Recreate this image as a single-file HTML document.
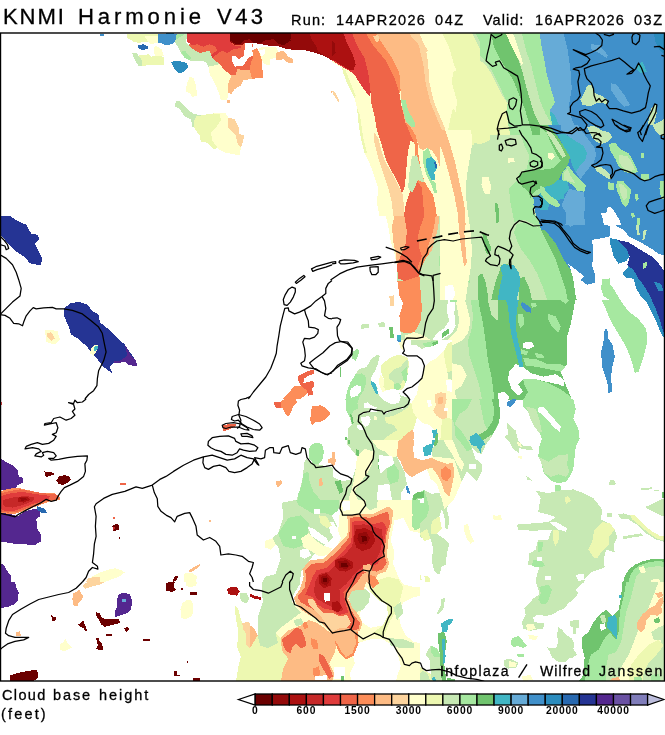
<!DOCTYPE html>
<html><head><meta charset="utf-8">
<style>
html,body{margin:0;padding:0;background:#fff;}
body{width:665px;height:735px;overflow:hidden;position:relative;font-family:"Liberation Sans",sans-serif;color:#000;}
svg{position:absolute;left:0;top:0;will-change:transform;}
.t{position:absolute;white-space:nowrap;line-height:1;will-change:transform;-webkit-text-stroke:0.3px #000;}
</style></head><body>
<svg width="665" height="735" viewBox="0 0 665 735">
<g id="map" shape-rendering="crispEdges">
<!--MAPFILL-->
<defs><clipPath id="k1"><rect x="440.0" y="130.0" width="170.0" height="170.0"/></clipPath>
<clipPath id="k2"><rect x="332.0" y="340.0" width="120.0" height="100.0"/></clipPath>
<clipPath id="k3"><rect x="250.0" y="500.0" width="170.0" height="182.0"/></clipPath>
<clipPath id="k4"><rect x="480.0" y="33.0" width="185.0" height="102.0"/></clipPath>
<clipPath id="k5"><rect x="540.0" y="125.0" width="125.0" height="100.0"/></clipPath>
</defs>
<polygon fill="#2b8cbe" points="166.0,33.0 173.5,33.0 176.0,39.2 172.2,44.2 166.0,44.2"/>
<polygon fill="#c7e9b4" points="169.7,34.2 187.2,34.2 186.0,43.0 191.0,48.0 199.7,53.0 209.7,50.5 213.4,58.0 219.7,64.2 215.9,66.7 208.4,66.7 205.9,61.7 196.0,60.5 189.7,60.5 184.7,58.0 181.0,53.0 177.2,45.5 173.5,40.5"/>
<polygon fill="#a6e8a0" points="169.7,34.2 184.7,34.2 178.5,38.0 174.7,40.5"/>
<polygon fill="#a6e8a0" points="181.0,51.7 184.7,50.5 191.0,58.0 189.7,60.5 184.7,58.0"/>
<polygon fill="#ef6548" points="197.2,44.2 245.9,43.0 253.4,44.2 253.4,56.7 250.9,63.0 249.6,70.4 238.4,70.4 235.9,74.9 231.4,75.4 224.7,70.4 219.7,64.2 212.2,58.0 210.9,54.2 209.7,50.5 199.7,53.0 191.0,48.0 188.5,44.2"/>
<polygon fill="#e03c3c" points="187.2,33.0 230.9,33.0 230.4,41.7 234.6,45.5 240.9,45.5 240.9,48.0 233.4,49.2 227.2,53.0 222.2,50.5 217.2,54.2 212.2,58.0 210.9,55.0 217.2,50.5 215.9,46.7 209.7,44.2 203.4,46.7 197.2,44.2 192.2,45.5 187.2,41.7"/>
<polygon fill="#ffffff" points="245.4,42.5 252.1,42.5 253.4,55.5 248.4,58.0 243.4,65.5 234.6,66.7 231.4,59.2 232.2,55.5 235.9,56.0 238.4,59.2 243.9,56.0 244.6,49.2"/>
<polygon fill="#fc8d59" points="252.1,50.5 257.1,48.0 259.6,53.0 262.1,60.5 262.9,77.9 252.1,78.7 249.6,70.4 250.9,63.0 253.4,56.7"/>
<polygon fill="#fdbb84" points="237.1,69.2 249.6,70.4 252.1,78.7 243.4,80.4 240.9,85.4 234.6,89.2 231.4,94.2 228.4,92.9 228.4,82.9 231.4,75.4 235.9,74.9"/>
<polygon fill="#ffffcc" points="208.4,66.7 219.7,64.2 224.7,70.4 231.4,75.4 228.4,82.9 228.4,92.9 227.2,99.9 220.9,99.9 218.4,91.7 214.7,82.9 209.7,74.2"/>
<polygon fill="#fdbb84" points="227.2,99.9 229.7,99.9 229.7,102.9 227.2,102.9"/>
<polygon fill="#ffffcc" points="258.4,48.0 265.8,46.7 275.8,46.7 278.3,51.7 275.8,58.0 269.6,59.2 269.6,65.5 264.6,64.2 262.1,60.5 259.6,53.0"/>
<polygon fill="#ffffff" points="258.9,50.5 264.6,49.2 264.6,54.2 262.1,56.7"/>
<polygon fill="#fdbb84" points="275.8,53.0 283.3,50.5 288.3,56.7 293.3,59.2 292.8,63.5 288.3,63.0 283.3,59.2 275.8,60.5"/>
<polygon fill="#940a0a" points="229.7,33.0 332.0,33.0 332.0,60.5 325.8,56.7 315.8,53.0 305.8,50.5 295.8,50.0 288.3,49.2 283.3,48.0 275.8,45.5 268.3,45.5 260.9,44.2 253.4,43.0 245.9,42.5 240.9,45.5 234.6,45.0 230.4,41.7"/>
<polygon fill="#ac1111" points="309.5,33.0 332.0,33.0 332.0,60.5 325.8,56.7 318.3,51.7 315.8,45.5 312.0,40.5"/>
<polygon fill="#6b0000" points="229.7,33.0 290.8,33.0 290.8,39.2 285.8,44.2 278.3,43.0 273.3,39.2 264.6,40.5 260.9,43.0 253.4,42.5 249.6,39.2 243.9,40.5 240.9,44.2 234.6,43.5 230.4,40.5"/>
<polygon fill="#6b0000" points="229.7,34.2 240.9,33.7 243.4,40.5 239.6,44.2 233.4,43.0"/>
<polygon fill="#6b0000" points="249.6,33.7 263.4,33.7 262.1,40.5 255.9,43.0 250.9,40.5"/>
<polygon fill="#6b0000" points="277.1,33.7 288.3,33.7 290.8,40.5 283.3,45.5 277.1,43.0"/>
<polygon fill="#2b8cbe" points="171.0,61.7 178.5,61.0 187.2,63.0 188.0,67.9 183.5,72.4 178.5,72.9 174.7,69.2"/>
<polygon fill="#ffffcc" points="189.7,76.7 193.5,77.9 196.0,85.4 197.2,95.4 192.2,97.4 189.7,92.9 185.5,91.7 187.2,82.9"/>
<polygon fill="#c7e9b4" points="176.0,100.9 179.7,100.9 186.0,107.9 193.5,114.1 203.4,115.4 196.0,119.1 196.0,127.9 192.2,126.6 191.0,119.1 184.7,116.6 179.7,109.1 174.7,106.6"/>
<polygon fill="#edf8b1" points="196.0,116.6 203.4,114.9 213.4,113.4 219.7,114.1 220.9,120.4 215.9,127.9 210.9,132.8 212.2,140.3 218.4,147.8 213.4,149.1 207.2,142.8 200.9,141.6 199.7,135.3 194.7,129.1 193.5,122.9"/>
<polygon fill="#ffffcc" points="213.4,113.4 225.9,113.4 228.4,117.9 228.4,127.9 235.9,135.3 237.1,142.8 240.9,147.8 239.6,155.3 233.4,154.1 225.9,152.8 218.4,149.1 212.2,140.3 210.9,132.8 215.9,127.9 220.9,120.4 219.7,114.1"/>
<polygon fill="#fdd49e" points="228.4,117.9 234.6,119.1 238.4,126.6 239.6,134.1 243.9,135.3 243.4,140.3 240.9,147.8 237.1,142.8 235.9,135.3 228.4,127.9"/>
<polygon fill="#fdbb84" points="330.8,90.9 332.0,90.9 332.0,92.9 330.8,92.9"/>
<polygon fill="#ffffcc" points="332.0,33.0 498.0,33.0 498.0,216.0 379.4,216.0 376.9,202.7 378.2,187.8 373.2,172.8 369.4,162.8 364.5,152.8 360.7,137.8 358.2,120.4 357.0,107.9 354.5,97.9 347.0,82.9 343.2,72.9 342.0,67.9 332.0,61.7"/>
<polygon fill="#edf8b1" points="342.0,67.9 345.7,70.4 349.5,80.4 355.7,95.4 354.5,97.9 347.0,82.9 343.2,72.9"/>
<polygon fill="#edf8b1" points="357.0,107.9 360.0,115.4 363.2,137.8 366.9,152.8 364.5,152.8 360.7,137.8 358.2,120.4"/>
<polygon fill="#fdd49e" points="374.4,132.8 378.2,137.8 381.9,152.8 385.7,162.8 391.9,172.8 399.4,187.8 403.1,195.3 404.4,216.0 393.2,216.0 391.9,202.7 388.2,187.8 383.2,172.8 378.2,157.8 374.4,142.8"/>
<polygon fill="#edf8b1" points="441.8,33.0 471.8,33.0 479.3,48.0 486.8,65.5 498.0,82.9 498.0,132.8 489.3,130.4 481.8,137.8 473.0,135.3 474.3,145.3 470.5,152.8 469.3,162.8 468.0,177.8 461.8,182.8 458.1,172.8 454.3,157.8 450.6,142.8 448.1,130.4 450.6,117.9 453.1,107.9 456.1,112.9 456.8,100.4 451.8,82.9 453.1,71.7 456.8,70.4 454.3,65.5 449.3,48.0"/>
<polygon fill="#c7e9b4" points="473.0,135.3 481.8,137.8 489.3,130.4 498.0,132.8 498.0,216.0 466.8,216.0 464.3,192.8 461.8,182.8 468.0,177.8 469.3,162.8 470.5,152.8 474.3,145.3"/>
<polygon fill="#c7e9b4" points="464.3,33.0 475.5,33.0 481.8,45.5 489.3,60.5 498.0,75.4 498.0,82.9 486.8,65.5 479.3,48.0 471.8,33.0"/>
<polygon fill="#a6e8a0" points="475.5,33.0 491.8,33.0 491.8,43.0 488.0,53.0 486.8,63.0 498.0,70.4 498.0,75.4 489.3,60.5 481.8,45.5"/>
<polygon fill="#70c46e" points="491.8,33.0 498.0,33.0 498.0,70.4 486.8,63.0 488.0,53.0 491.8,43.0"/>
<polygon fill="#ffffcc" points="481.8,177.8 488.0,177.8 491.8,187.8 489.3,195.3 484.3,192.8 481.8,185.3"/>
<polygon fill="#70c46e" points="495.5,202.7 498.0,202.7 498.0,216.0 495.5,216.0"/>
<polygon fill="#fdbb84" points="375.7,33.0 414.4,33.0 419.4,48.0 423.1,63.0 425.6,82.9 430.6,102.9 436.8,117.9 443.1,132.8 448.1,147.8 453.1,162.8 458.1,177.8 460.6,192.8 463.1,216.0 454.3,216.0 451.8,202.7 446.8,187.8 441.8,172.8 436.8,157.8 431.8,150.3 426.9,147.8 423.1,150.3 419.4,147.8 416.9,140.3 415.6,135.3 409.4,125.4 405.6,122.9 401.9,107.9 400.6,90.4 399.4,72.9 391.9,58.0 381.9,43.0"/>
<polygon fill="#fdd49e" points="414.4,33.0 419.4,33.0 425.6,48.0 428.1,63.0 429.4,82.9 434.3,102.9 440.6,117.9 446.8,132.8 451.8,147.8 456.8,162.8 461.8,177.8 464.3,192.8 466.8,216.0 463.1,216.0 460.6,192.8 458.1,177.8 453.1,162.8 448.1,147.8 443.1,132.8 436.8,117.9 430.6,102.9 425.6,82.9 423.1,63.0 419.4,48.0"/>
<polygon fill="#fdd49e" points="409.4,34.2 416.9,34.2 428.1,50.5 425.6,53.0 419.4,45.5"/>
<polygon fill="#fc8d59" points="365.7,33.0 375.7,33.0 381.9,43.0 391.9,58.0 399.4,72.9 400.6,90.4 399.4,92.9 394.4,77.9 385.7,60.5 373.2,45.5"/>
<polygon fill="#fdd49e" points="373.2,36.0 378.2,35.0 379.4,40.5 376.4,42.5"/>
<polygon fill="#ef6548" points="350.7,33.0 365.7,33.0 373.2,45.5 385.7,60.5 394.4,77.9 399.4,92.9 401.9,107.9 405.6,122.9 411.9,137.8 414.4,142.8 410.6,140.3 408.1,150.3 406.9,162.8 405.6,177.8 404.4,187.8 401.9,192.8 398.2,182.8 391.9,171.5 385.7,159.1 381.9,145.3 376.9,130.4 374.4,115.4 370.7,100.4 370.7,92.9 368.2,72.9 364.5,58.0 357.0,45.5"/>
<polygon fill="#fc8d59" points="405.6,122.9 409.4,125.4 415.6,135.3 418.1,145.3 418.1,152.8 415.6,157.8 414.4,142.8 411.9,137.8"/>
<polygon fill="#fc8d59" points="418.1,152.8 420.6,167.8 424.4,181.5 428.1,187.8 433.1,195.3 435.6,207.7 436.8,216.0 424.4,216.0 423.1,202.7 421.9,187.8 416.9,180.3 418.1,172.8 415.6,157.8"/>
<polygon fill="#ef6548" points="416.9,180.3 421.9,187.8 423.1,202.7 424.4,216.0 403.9,216.0 405.6,205.2 409.4,192.8"/>
<polygon fill="#e03c3c" points="332.0,33.0 352.0,33.0 357.0,45.5 364.5,58.0 368.2,72.9 370.7,92.9 369.4,96.7 362.0,86.7 355.7,76.7 350.7,71.7 342.0,66.7 332.0,60.5"/>
<polygon fill="#ac1111" points="332.0,33.0 343.2,33.0 347.0,43.0 353.2,55.5 355.7,64.2 353.2,70.4 348.2,69.2 342.0,65.5 332.0,59.2"/>
<polygon fill="#940a0a" points="332.0,40.5 334.5,43.0 335.7,53.0 332.0,56.7"/>
<polygon fill="#a6e8a0" points="400.6,99.2 405.6,100.4 408.1,110.4 414.4,121.6 415.6,127.4 410.6,126.6 405.6,120.4 403.1,110.4"/>
<polygon fill="#c7e9b4" points="411.9,156.6 416.9,155.3 420.6,167.8 424.4,182.8 418.1,180.3 411.9,192.8 408.1,187.8 409.4,172.8"/>
<polygon fill="#a6e8a0" points="423.1,151.6 428.1,147.8 431.8,156.6 425.6,159.1 425.6,165.3 428.1,172.8 431.8,180.3 435.6,182.8 436.8,192.8 434.3,192.8 430.6,182.8 425.6,172.8 423.1,162.8"/>
<polygon fill="#41b6c4" points="425.6,159.1 431.8,156.6 435.6,161.6 436.8,169.0 434.3,172.8 435.6,180.3 431.8,180.3 428.1,172.8 425.6,165.3"/>
<polygon fill="#2869b0" points="434.3,161.6 436.3,161.6 436.8,167.8 434.8,167.8"/>
<polygon fill="#fdd49e" points="332.0,90.9 334.5,91.7 339.5,100.4 339.0,102.9 335.7,98.4 333.2,94.2"/>
<polygon fill="#4090ca" points="498.0,33.0 665.5,33.0 665.5,217.1 498.0,217.1"/>
<polygon fill="#c7e9b4" points="498.0,33.0 538.2,33.0 541.9,48.1 545.7,65.6 549.5,80.7 554.5,93.3 557.0,105.8 552.0,115.9 557.0,123.4 560.8,133.5 565.8,153.5 570.8,168.6 578.4,178.7 584.6,186.2 580.9,191.2 570.8,193.7 563.3,198.7 560.8,208.8 563.3,217.1 498.0,217.1"/>
<polygon fill="#66abd7" points="538.2,33.0 563.3,33.0 567.1,48.1 570.8,65.6 573.3,83.2 573.3,98.3 570.8,108.3 575.8,118.4 580.9,133.5 585.9,146.0 595.9,153.5 590.9,163.6 585.9,173.6 583.4,183.7 584.6,196.2 585.9,217.1 560.8,217.1 563.3,206.3 558.3,198.7 568.3,193.7 580.9,186.2 580.9,173.6 578.4,163.6 570.8,158.6 565.8,153.5 560.8,141.0 557.0,133.5 557.0,123.4 552.0,115.9 557.0,105.8 554.5,93.3 549.5,80.7 545.7,65.6 541.9,48.1"/>
<polygon fill="#41b6c4" points="557.0,123.4 557.0,133.5 560.8,141.0 565.8,153.5 570.8,158.6 578.4,163.6 583.4,173.6 585.9,163.6 587.2,151.0 580.9,143.5 573.3,141.0 565.8,136.0 560.8,128.4"/>
<polygon fill="#41b6c4" points="550.7,181.2 560.8,178.7 568.3,183.7 570.8,193.7 560.8,198.7 553.2,193.7 547.0,188.7"/>
<polygon fill="#41b6c4" points="552.0,110.8 557.0,113.4 560.8,118.4 557.0,123.4 552.0,117.1"/>
<polygon fill="#a6e8a0" points="523.1,33.0 538.2,33.0 541.9,48.1 545.7,65.6 549.5,80.7 554.5,93.3 557.0,105.8 552.0,115.9 548.2,108.3 543.2,95.8 536.9,80.7 530.6,63.1 523.1,48.1 518.1,38.0"/>
<polygon fill="#a6e8a0" points="498.0,33.0 504.3,33.0 508.0,40.5 515.6,53.1 508.0,63.1 515.6,75.7 519.3,88.2 520.6,103.3 518.1,108.3 513.1,98.3 505.5,88.2 498.0,80.7"/>
<polygon fill="#ffffcc" points="504.3,33.0 513.1,33.0 516.8,43.0 515.6,46.8 509.3,41.8"/>
<polygon fill="#70c46e" points="498.0,38.0 505.5,38.0 515.6,53.1 521.9,70.7 525.6,88.2 533.2,105.8 539.4,118.4 543.2,128.4 535.7,128.4 528.1,115.9 521.9,103.3 519.3,88.2 515.6,75.7 508.0,63.1 498.0,55.6"/>
<polygon fill="#a6e8a0" points="498.0,80.7 505.5,88.2 513.1,98.3 518.1,108.3 523.1,120.9 528.1,133.5 530.6,143.5 533.2,153.5 523.1,158.6 518.1,151.0 521.9,133.5 513.1,115.9 505.5,108.3 498.0,100.8"/>
<polygon fill="#edf8b1" points="498.0,100.8 505.5,108.3 513.1,115.9 518.1,125.9 521.9,133.5 525.6,143.5 521.9,147.3 513.1,143.5 505.5,138.5 498.0,138.5"/>
<polygon fill="#ffffcc" points="498.0,105.8 505.5,110.8 510.6,120.9 508.0,128.4 498.0,128.4"/>
<polygon fill="#a6e8a0" points="518.1,158.6 530.6,153.5 540.7,148.5 530.6,173.6 523.1,193.7 525.6,217.1 513.1,217.1 515.6,193.7 518.1,173.6"/>
<polygon fill="#70c46e" points="539.4,118.4 548.2,128.4 555.8,138.5 563.3,153.5 569.6,158.6 563.3,168.6 558.3,178.7 548.2,183.7 538.2,188.7 530.6,196.2 525.6,193.7 520.6,183.7 518.1,176.1 525.6,171.1 535.7,168.6 543.2,166.1 548.2,158.6 545.7,148.5 540.7,138.5 535.7,128.4"/>
<polygon fill="#a6e8a0" points="563.3,168.6 570.8,168.6 578.4,178.7 584.6,186.2 580.9,191.2 570.8,188.7 563.3,183.7 560.8,176.1"/>
<polygon fill="#c7e9b4" points="562.0,169.9 569.6,169.9 573.3,178.7 568.3,183.7 562.8,179.9"/>
<polygon fill="#a6e8a0" points="530.6,196.2 538.2,188.7 548.2,183.7 552.0,193.7 558.3,201.3 560.8,208.8 555.8,208.8 545.7,198.7 540.7,203.8 535.7,208.8 530.6,208.8"/>
<polygon fill="#70c46e" points="518.1,183.7 530.6,196.2 530.6,208.8 535.7,217.1 525.6,217.1 523.1,203.8 518.1,193.7"/>
<polygon fill="#4090ca" points="533.2,197.5 539.4,196.2 542.7,201.3 540.7,207.5 535.7,206.3"/>
<polygon fill="#ffffcc" points="548.2,153.5 553.2,153.5 554.5,158.6 549.5,158.6"/>
<polygon fill="#2b8cbe" points="651.2,33.0 665.5,33.0 665.5,53.1 658.7,48.1 653.7,40.5"/>
<polygon fill="#66abd7" points="590.9,44.3 598.5,45.6 607.2,55.6 606.0,58.1 598.5,51.8 590.9,49.3"/>
<polygon fill="#66abd7" points="608.5,83.2 613.5,83.2 623.6,95.8 628.6,105.8 623.6,108.3 616.0,98.3 608.5,90.8"/>
<polygon fill="#c7e9b4" points="590.9,83.2 594.7,83.2 597.2,90.8 603.5,93.3 609.8,97.0 608.5,102.1 601.0,100.8 594.7,104.6 585.9,105.8 580.9,100.8 583.4,94.5 588.4,90.8"/>
<polygon fill="#41b6c4" points="637.4,61.9 642.4,61.9 646.2,70.7 639.9,71.9 636.1,68.2"/>
<polygon fill="#c7e9b4" points="651.2,105.8 656.2,103.3 655.0,115.9 652.4,123.4 658.7,118.4 665.5,113.4 665.5,143.5 658.7,138.5 653.7,130.9 648.7,125.9 649.9,115.9"/>
<polygon fill="#a6e8a0" points="649.9,115.9 648.7,125.9 653.7,130.9 658.7,138.5 665.5,143.5 665.5,151.0 658.7,146.0 651.2,138.5"/>
<polygon fill="#c7e9b4" points="587.2,124.7 598.5,125.9 608.5,132.2 612.3,138.5 608.5,143.5 601.0,141.0 593.4,143.5 588.4,138.5 590.9,133.5"/>
<polygon fill="#a6e8a0" points="608.5,143.5 616.0,142.2 623.6,151.0 631.1,156.1 636.1,166.1 637.4,173.6 628.6,172.4 621.1,167.4 616.0,158.6 611.0,151.0"/>
<polygon fill="#c7e9b4" points="593.4,166.1 603.5,168.6 611.0,173.6 613.5,178.7 606.0,178.7 598.5,173.6"/>
<polygon fill="#a6e8a0" points="618.5,181.2 626.1,182.4 631.1,190.0 631.1,198.7 628.6,206.3 623.6,203.8 619.8,196.2 616.0,188.7"/>
<polygon fill="#a6e8a0" points="607.2,183.7 613.5,183.7 614.0,190.0 608.5,190.0"/>
<polygon fill="#a6e8a0" points="641.1,173.6 648.7,174.9 648.7,179.9 642.4,178.7"/>
<polygon fill="#a6e8a0" points="641.1,153.5 644.9,153.5 644.9,158.6 641.1,158.6"/>
<polygon fill="#ffffff" points="601.0,212.6 608.5,206.3 613.5,208.8 614.8,217.1 601.0,217.1"/>
<polygon fill="#253494" points="0.0,216.0 10.0,216.0 17.5,221.0 26.2,224.7 31.2,233.5 37.4,234.7 39.4,239.7 34.9,243.5 39.9,253.4 41.9,258.4 41.2,265.4 30.0,263.4 25.0,257.2 15.0,250.9 10.0,246.0 3.7,238.5 0.0,233.5"/>
<polygon fill="#253494" points="71.1,302.9 79.9,302.1 87.4,304.6 92.4,310.9 98.6,314.6 99.8,322.1 107.3,328.3 114.8,335.8 124.8,344.6 129.8,352.0 136.0,360.8 137.3,365.8 128.6,365.3 126.1,362.0 113.6,363.3 109.8,367.0 112.3,373.3 103.6,367.0 98.6,360.8 93.6,354.5 86.1,345.8 77.4,338.3 71.1,334.6 68.6,325.8 63.7,315.8 63.7,308.4"/>
<polygon fill="#54278f" points="113.6,363.3 126.1,362.0 128.6,365.3 137.3,365.8 136.0,360.8 131.1,355.8 124.8,344.6 127.3,355.8 119.8,360.8 113.6,361.3"/>
<polygon fill="#ffffcc" points="91.1,348.3 94.9,344.6 98.6,345.8 96.1,352.0 93.6,355.8 89.9,353.3"/>
<polygon fill="#41b6c4" points="93.6,347.1 97.4,345.3 98.1,348.3 94.9,352.0"/>
<polygon fill="#ffffcc" points="44.9,329.6 57.4,330.8 59.9,339.6 54.9,344.6 46.2,342.1"/>
<polygon fill="#fdd49e" points="47.4,333.3 51.2,332.1 54.9,338.3 51.2,340.8 47.4,337.1"/>
<polygon fill="#fc8d59" points="282.1,399.0 288.3,393.2 294.6,385.7 300.8,385.7 305.8,388.2 309.5,390.7 305.8,394.5 300.8,399.0"/>
<polygon fill="#ef6548" points="298.3,375.8 305.8,372.0 313.3,369.5 314.5,373.3 308.3,375.8 304.5,378.3 303.3,383.2 308.3,382.0 313.3,380.8 314.5,385.7 312.0,388.2 313.3,394.5 308.3,395.7 307.0,390.7 300.8,385.7 298.3,380.8"/>
<polygon fill="#c7e9b4" points="385.7,216.0 498.0,216.0 498.0,399.0 403.1,399.0 406.9,388.2 404.4,378.3 406.9,365.8 404.4,359.5 403.1,350.8 400.6,333.3 399.4,315.8 403.1,303.4 399.4,295.9 397.4,280.9 396.9,265.9 395.7,253.4 393.2,241.0 390.7,226.0"/>
<polygon fill="#c7e9b4" points="360.7,324.6 369.4,323.8 369.4,327.8 361.5,328.8"/>
<polygon fill="#c7e9b4" points="378.2,322.8 384.4,322.1 384.9,327.1 378.9,327.1"/>
<polygon fill="#70c46e" points="389.4,327.1 393.2,327.1 393.7,338.3 389.9,338.3"/>
<polygon fill="#41b6c4" points="397.4,334.6 400.6,334.6 400.6,342.1 397.4,342.1"/>
<polygon fill="#a6e8a0" points="354.5,350.8 359.0,349.5 357.0,363.3 352.0,364.5"/>
<polygon fill="#70c46e" points="340.7,365.8 342.5,365.8 342.5,377.0 340.7,377.0"/>
<polygon fill="#c7e9b4" points="347.0,399.0 348.2,385.7 357.0,375.8 364.5,372.0 371.9,363.3 378.2,354.5 380.7,360.8 375.7,370.8 373.2,380.8 378.2,390.7 385.7,390.7 381.9,378.3 383.2,368.3 389.4,360.8 396.9,358.3 404.4,359.5 406.9,365.8 404.4,378.3 406.9,388.2 403.1,399.0"/>
<polygon fill="#a6e8a0" points="347.0,399.0 348.2,385.7 357.0,375.8 364.5,372.0 366.9,378.3 362.0,385.7 364.5,399.0"/>
<polygon fill="#ffffcc" points="385.7,370.8 391.9,363.3 399.4,363.3 403.1,370.8 400.6,383.2 393.2,388.2 386.9,383.2"/>
<polygon fill="#fdbb84" points="390.7,372.0 396.9,369.5 399.4,375.8 395.7,382.0 390.7,379.5"/>
<polygon fill="#ffffff" points="350.7,390.7 357.0,385.7 360.7,388.2 355.7,394.5 352.0,397.0"/>
<polygon fill="#41b6c4" points="370.7,382.0 375.7,383.2 378.2,390.7 379.4,395.7 375.7,393.2 371.9,387.0"/>
<polygon fill="#ffffff" points="378.2,390.7 385.7,390.7 391.9,393.2 399.4,392.0 400.6,399.0 380.7,399.0"/>
<polygon fill="#a6e8a0" points="481.8,216.0 498.0,216.0 498.0,285.9 491.8,290.9 484.3,285.9 479.3,278.4 476.8,265.9 479.3,253.4 481.8,236.0"/>
<polygon fill="#a6e8a0" points="468.0,278.4 476.8,288.4 479.3,305.9 483.0,323.3 485.5,340.8 488.0,360.8 491.8,378.3 494.3,399.0 481.8,399.0 479.3,385.7 474.3,370.8 469.3,355.8 468.0,340.8 471.8,328.3 473.0,315.8 470.5,298.4"/>
<polygon fill="#70c46e" points="478.0,273.4 484.3,285.9 488.0,300.9 491.8,315.8 498.0,320.8 498.0,399.0 494.3,399.0 491.8,378.3 488.0,360.8 485.5,340.8 483.0,323.3 479.3,305.9 476.8,288.4"/>
<polygon fill="#70c46e" points="481.8,236.0 488.0,241.0 491.8,253.4 489.3,258.4 484.3,248.5"/>
<polygon fill="#a6e8a0" points="439.3,255.9 445.6,258.4 449.3,270.9 451.8,280.9 446.8,283.4 443.1,273.4 439.3,265.9"/>
<polygon fill="#ffffcc" points="441.8,216.0 451.8,216.0 449.3,231.0 448.1,241.0 451.8,250.9 454.3,265.9 456.8,280.9 461.8,290.9 466.8,305.9 470.5,320.8 468.0,333.3 461.8,340.8 451.8,345.8 444.3,350.8 441.8,360.8 451.8,363.3 461.8,365.8 466.8,375.8 461.8,385.7 454.3,390.7 456.8,399.0 411.9,399.0 416.9,390.7 424.4,378.3 424.4,365.8 431.8,363.3 439.3,355.8 441.8,345.8 449.3,338.3 456.8,330.8 459.3,320.8 456.8,305.9 451.8,290.9 449.3,278.4 445.6,265.9 444.3,253.4 441.8,241.0 443.1,228.5"/>
<polygon fill="#fdd49e" points="451.8,216.0 464.3,216.0 463.1,231.0 461.8,246.0 463.1,258.4 461.8,265.9 459.3,260.9 458.1,248.5 455.6,236.0 453.1,226.0"/>
<polygon fill="#fdbb84" points="454.8,216.0 461.8,216.0 460.6,231.0 459.8,246.0 458.8,248.5 456.8,236.0 455.6,226.0"/>
<polygon fill="#ffffcc" points="464.3,216.0 468.0,216.0 466.8,241.0 464.3,260.9 461.8,265.9 463.1,258.4 461.8,246.0 463.1,231.0"/>
<polygon fill="#ffffcc" points="404.4,335.8 414.4,332.1 424.4,335.8 431.8,340.8 426.9,345.8 416.9,347.1 406.9,345.8"/>
<polygon fill="#ffffff" points="445.6,285.9 454.3,285.9 455.6,298.4 454.3,313.4 455.6,325.8 451.8,333.3 444.3,338.3 436.8,343.3 431.8,340.8 436.8,333.3 444.3,328.3 449.3,320.8 446.8,310.9 448.1,298.4 444.3,290.9"/>
<polygon fill="#a6e8a0" points="449.3,295.9 456.8,294.6 456.8,302.1 450.6,302.1"/>
<polygon fill="#70c46e" points="441.8,333.3 449.3,328.3 449.3,333.3 441.8,338.3"/>
<polygon fill="#70c46e" points="431.8,343.3 436.8,340.8 436.8,344.6 431.8,347.1"/>
<polygon fill="#ffffff" points="406.9,350.8 416.9,352.0 426.9,354.5 436.8,353.3 441.8,355.8 439.3,360.8 426.9,362.0 421.9,359.5 424.4,365.8 424.4,378.3 418.1,385.7 411.9,390.7 406.9,388.2 405.6,378.3 408.1,365.8 406.9,358.3"/>
<polygon fill="#fdbb84" points="435.6,393.2 444.3,392.0 446.8,399.0 435.6,399.0"/>
<polygon fill="#ffffcc" points="385.7,216.0 394.4,216.0 391.9,226.0 393.2,241.0 395.7,253.4 396.9,265.9 394.4,253.4 390.7,241.0 388.2,226.0"/>
<polygon fill="#fdbb84" points="394.4,216.0 404.4,216.0 406.9,231.0 405.6,243.5 400.6,255.9 396.9,265.9 395.7,253.4 393.2,241.0 391.9,226.0"/>
<polygon fill="#fdbb84" points="435.6,216.0 439.3,216.0 438.1,228.5 434.3,241.0 431.8,250.9 429.4,253.4 428.1,246.0 431.8,236.0 434.3,226.0"/>
<polygon fill="#fc8d59" points="424.4,216.0 435.6,216.0 434.3,226.0 431.8,236.0 428.1,246.0 429.4,253.4 425.6,258.4 421.9,265.9 419.4,275.9 420.6,290.9 421.9,308.4 420.6,320.8 416.9,328.3 414.4,332.1 406.9,333.3 400.6,332.1 399.4,315.8 403.1,303.4 399.4,295.9 397.4,280.9 404.4,280.9 411.9,278.4 419.4,275.9 418.1,265.9 421.9,255.9 419.4,248.5 418.1,236.0 420.6,226.0"/>
<polygon fill="#ef6548" points="404.4,216.0 424.4,216.0 420.6,226.0 418.1,236.0 419.4,248.5 421.9,255.9 418.1,265.9 419.4,275.9 411.9,278.4 404.4,280.9 398.2,278.4 396.9,265.9 400.6,255.9 405.6,243.5 406.9,231.0"/>
<polygon fill="#fdd49e" points="389.4,295.9 393.9,295.4 394.4,305.9 389.9,306.4"/>
<polygon fill="#70c46e" points="498.0,216.0 540.7,216.0 548.2,231.1 555.8,248.6 563.3,263.7 569.6,266.2 573.3,278.8 575.8,296.4 573.3,311.4 570.8,324.0 567.1,336.5 567.1,351.6 567.1,364.2 560.8,371.7 564.5,381.7 570.8,396.8 572.1,400.1 498.0,400.1"/>
<polygon fill="#c7e9b4" points="498.0,216.0 535.7,216.0 533.2,226.0 530.6,238.6 531.9,253.7 535.7,266.2 536.9,281.3 538.2,293.8 534.4,291.3 528.1,278.8 520.6,266.2 513.1,258.7 505.5,261.2 498.0,266.2"/>
<polygon fill="#a6e8a0" points="531.9,226.0 540.7,231.1 548.2,246.1 555.8,261.2 563.3,271.2 565.8,286.3 570.8,298.9 565.8,303.9 558.3,298.9 553.2,288.8 548.2,281.3 543.2,283.8 538.2,293.8 536.9,281.3 535.7,266.2 531.9,253.7 530.6,238.6"/>
<polygon fill="#70c46e" points="540.7,216.0 548.2,231.1 555.8,248.6 563.3,263.7 560.8,266.2 553.2,256.2 547.0,241.1 540.7,228.6 538.2,221.0"/>
<polygon fill="#a6e8a0" points="548.2,313.9 555.8,316.5 560.8,326.5 558.3,332.8 552.0,326.5 548.2,319.0"/>
<polygon fill="#a6e8a0" points="518.1,313.9 523.1,313.9 524.4,324.0 520.6,327.8 517.6,321.5"/>
<polygon fill="#a6e8a0" points="530.6,302.6 535.7,302.6 536.9,306.4 531.9,307.7"/>
<polygon fill="#a6e8a0" points="520.6,349.1 528.1,351.6 526.9,355.4 520.6,353.6"/>
<polygon fill="#a6e8a0" points="534.4,352.9 541.9,354.1 544.5,357.9 536.9,357.9"/>
<polygon fill="#a6e8a0" points="523.1,357.9 535.7,359.1 548.2,364.2 560.8,364.2 565.8,366.7 560.8,371.7 548.2,369.2 535.7,366.7 525.6,365.4"/>
<polygon fill="#ffffff" points="509.3,371.7 515.6,364.2 523.1,366.7 530.6,373.0 543.2,376.7 555.8,374.2 563.3,379.2 564.5,386.8 558.3,384.3 545.7,381.7 535.7,379.2 523.1,379.2 518.1,384.3 523.1,391.8 518.1,395.6 511.8,389.3 508.0,379.2"/>
<polygon fill="#ffffff" points="498.0,393.0 504.3,391.8 509.3,396.8 508.0,400.1 498.0,400.1"/>
<polygon fill="#ffffff" points="523.1,342.8 531.9,341.6 534.4,346.6 528.1,349.1 523.1,347.8"/>
<polygon fill="#a6e8a0" points="523.1,379.2 535.7,379.2 548.2,383.0 560.8,389.3 570.8,396.8 572.1,400.1 523.1,400.1 528.1,391.8 524.4,384.3"/>
<polygon fill="#41b6c4" points="498.0,266.2 505.5,261.2 513.1,266.2 518.1,278.8 519.3,296.4 516.8,311.4 515.6,326.5 518.1,341.6 521.9,356.6 523.1,366.7 519.3,366.7 515.6,351.6 511.8,336.5 509.3,321.5 508.0,306.4 503.0,291.3 498.0,286.3"/>
<polygon fill="#4090ca" points="521.9,301.4 530.6,307.7 530.6,312.7 525.6,311.4 520.6,305.2"/>
<polygon fill="#4090ca" points="498.0,287.6 501.8,291.3 500.5,295.1 498.0,293.8"/>
<polygon fill="#4090ca" points="540.7,216.0 602.2,216.0 604.7,226.0 606.0,237.3 598.5,238.6 592.2,239.9 593.4,253.7 592.2,266.2 594.7,273.8 594.7,282.5 587.2,285.1 580.9,280.0 584.6,276.3 580.9,270.0 573.3,265.0 569.6,266.2 563.3,263.7 555.8,248.6 548.2,231.1"/>
<polygon fill="#66abd7" points="565.8,216.0 579.6,216.0 578.4,223.5 570.8,227.3 565.8,222.3"/>
<polygon fill="#4090ca" points="613.5,216.0 665.5,216.0 665.5,256.2 658.7,253.7 651.2,248.6 638.6,241.1 628.6,236.1 623.6,229.8 616.0,226.0"/>
<polygon fill="#c7e9b4" points="631.1,218.5 634.9,217.3 633.6,224.8 631.1,224.8"/>
<polygon fill="#c7e9b4" points="637.4,219.8 640.6,218.5 638.6,228.6 639.9,234.8 637.4,234.8 636.1,227.3"/>
<polygon fill="#c7e9b4" points="643.7,229.8 646.7,229.8 644.2,239.9 642.4,239.9"/>
<polygon fill="#2b8cbe" points="607.2,237.3 618.5,239.9 628.6,246.1 631.1,253.7 626.1,261.2 618.5,263.7 613.5,256.2 611.0,246.1"/>
<polygon fill="#2b8cbe" points="622.3,273.8 628.6,266.2 633.6,270.0 638.6,278.8 643.7,285.1 648.7,293.8 653.7,303.9 658.7,316.5 662.5,329.0 665.5,339.1 661.2,334.0 656.2,321.5 651.2,311.4 646.2,301.4 641.1,296.4 636.1,288.8 633.6,278.8 626.1,277.5"/>
<polygon fill="#253494" points="617.3,239.9 628.6,242.4 638.6,248.6 651.2,256.2 658.7,263.7 663.7,270.0 665.5,271.2 665.5,339.1 662.5,329.0 658.7,316.5 653.7,303.9 648.7,293.8 643.7,285.1 638.6,278.8 633.6,270.0 627.3,265.0 629.8,256.2 626.1,248.6"/>
<polygon fill="#a6e8a0" points="642.4,263.7 647.4,261.2 646.2,267.5 643.2,268.7"/>
<polygon fill="#2b8cbe" points="653.7,281.3 661.2,283.8 663.7,291.3 658.7,291.3"/>
<polygon fill="#a6e8a0" points="601.0,278.8 606.0,278.3 613.5,288.8 621.1,301.4 628.6,311.4 638.6,319.0 646.2,329.0 647.4,341.6 643.7,356.6 638.6,371.7 634.9,373.0 631.1,359.1 626.1,346.6 618.5,334.0 611.0,321.5 604.7,306.4 599.7,296.4"/>
<polygon fill="#4090ca" points="604.7,329.0 607.2,329.0 608.5,339.1 612.3,344.1 614.8,356.6 612.3,366.7 611.0,376.7 612.3,391.8 608.5,393.0 607.2,381.7 602.2,366.7 601.0,351.6 603.5,341.6"/>
<polygon fill="#54278f" points="0.0,457.7 5.0,461.4 12.5,465.2 17.5,470.1 18.7,476.4 22.5,477.6 22.5,482.6 17.5,485.1 15.0,488.9 0.0,490.1"/>
<polygon fill="#54278f" points="0.0,512.6 10.0,513.8 17.5,516.3 25.0,511.3 34.9,508.8 39.9,510.1 39.9,516.3 36.2,518.8 37.4,528.8 41.2,535.0 41.2,541.3 34.9,545.0 15.0,543.8 0.0,541.3"/>
<polygon fill="#54278f" points="0.0,562.5 3.7,565.0 7.5,571.2 11.2,576.2 11.2,582.0 0.0,582.0"/>
<polygon fill="#2869b0" points="37.4,506.3 44.9,508.8 46.9,513.3 41.2,512.6 37.4,510.1"/>
<polygon fill="#fc8d59" points="0.0,491.4 7.5,488.9 17.5,487.6 27.5,490.1 39.9,492.6 53.7,492.6 59.9,496.9 59.9,500.1 49.9,501.3 39.9,505.1 30.0,508.8 22.5,511.3 15.0,513.8 7.5,513.8 0.0,512.6"/>
<polygon fill="#ef6548" points="0.0,493.4 10.0,490.9 20.0,489.4 32.5,491.4 44.9,493.4 56.9,494.6 58.7,498.8 47.4,500.8 37.4,504.3 27.5,508.1 17.5,511.8 7.5,512.6 0.0,511.3"/>
<polygon fill="#e03c3c" points="0.0,496.4 10.0,493.4 22.5,491.9 34.9,493.9 49.9,495.9 48.7,499.3 34.9,503.3 25.0,506.8 15.0,510.6 5.0,510.8 0.0,508.8"/>
<polygon fill="#c62828" points="2.5,500.1 12.5,497.6 25.0,495.9 34.9,497.6 32.5,501.3 22.5,505.1 12.5,507.6 3.7,506.3"/>
<polygon fill="#ac1111" points="17.5,497.6 27.5,496.9 30.0,500.1 23.7,502.6 17.5,501.3"/>
<polygon fill="#940a0a" points="20.0,497.6 26.2,497.6 27.0,500.1 21.2,500.8"/>
<polygon fill="#6b0000" points="44.4,471.4 48.7,471.9 53.7,472.9 53.7,475.1 48.7,475.9 46.2,477.6 44.9,475.1"/>
<polygon fill="#6b0000" points="58.7,476.4 64.9,475.1 69.9,476.9 71.1,480.1 67.4,482.6 62.4,485.1 58.7,483.9 56.2,480.9"/>
<polygon fill="#6b0000" points="112.3,526.3 116.1,523.8 119.3,525.1 118.6,530.1 113.6,530.8"/>
<polygon fill="#c62828" points="112.8,527.6 115.3,526.8 115.3,529.3 112.8,529.8"/>
<polygon fill="#6b0000" points="118.8,536.8 120.3,536.8 120.3,538.8 118.8,538.8"/>
<polygon fill="#ef6548" points="119.8,483.1 126.1,483.1 126.1,484.9 119.8,484.9"/>
<polygon fill="#ef6548" points="112.8,516.8 114.8,516.8 114.8,518.8 112.8,518.8"/>
<polygon fill="#e03c3c" points="0.0,402.0 1.5,402.0 1.5,404.5 0.0,404.5"/>
<polygon fill="#ffffcc" points="92.4,576.2 99.8,572.5 107.3,570.0 114.8,568.2 121.1,570.0 124.8,572.5 119.8,576.2 112.3,579.2 104.8,582.0 87.4,582.0"/>
<polygon fill="#fdd49e" points="87.4,578.7 94.9,576.7 99.8,577.5 99.8,582.0 86.1,582.0"/>
<polygon fill="#fc8d59" points="273.3,402.7 280.8,401.5 284.6,399.0 295.8,399.0 297.1,402.7 293.3,406.5 290.8,412.7 288.3,416.5 284.6,412.7 282.1,407.7 275.8,407.7"/>
<polygon fill="#ef6548" points="273.3,402.7 280.8,401.5 281.3,407.7 275.8,407.7"/>
<polygon fill="#fc8d59" points="312.0,406.5 320.8,405.2 327.0,409.0 330.8,414.0 325.8,419.0 320.8,421.5 314.5,422.7 312.0,425.2 310.3,420.2 310.8,412.7"/>
<polygon fill="#ef6548" points="223.4,425.2 233.4,423.5 237.1,425.2 232.2,427.7 227.2,430.2 222.9,431.0"/>
<polygon fill="#c7e9b4" points="305.8,458.9 313.3,463.9 318.8,464.4 325.8,466.4 332.5,467.6 332.5,582.0 262.1,582.0 258.4,573.7 255.9,565.0 262.1,558.8 265.8,548.8 264.6,543.8 270.8,538.8 278.3,533.8 283.3,523.8 285.8,516.3 295.8,508.8 297.1,498.8 300.8,486.4 303.3,473.9 303.8,463.9"/>
<polygon fill="#a6e8a0" points="310.8,445.2 315.8,442.7 322.0,443.9 323.8,451.4 322.8,458.9 318.8,464.4 313.3,463.9 308.8,457.7 308.8,450.2"/>
<polygon fill="#a6e8a0" points="303.3,473.9 308.3,471.4 309.5,481.4 313.3,491.4 319.5,498.8 325.8,503.8 315.8,508.8 308.3,511.3 300.8,508.8 297.1,503.8 298.3,493.9 302.0,483.9"/>
<polygon fill="#a6e8a0" points="283.3,523.8 290.8,518.8 298.3,516.3 303.3,521.3 300.8,531.3 305.8,538.8 298.3,546.3 290.8,546.3 283.3,541.3 279.6,533.8"/>
<polygon fill="#ffffcc" points="264.6,542.5 270.8,538.8 275.8,541.3 273.3,547.5 267.1,548.8"/>
<polygon fill="#ffffcc" points="295.8,548.8 303.3,541.3 310.8,538.8 315.8,546.3 325.8,546.3 332.5,548.8 332.5,558.8 325.8,561.3 315.8,558.8 308.3,561.3 300.8,558.8"/>
<polygon fill="#edf8b1" points="315.8,518.8 325.8,521.3 332.5,526.3 332.5,533.8 325.8,531.3 318.3,526.3"/>
<polygon fill="#ffffff" points="314.5,508.8 318.8,508.8 318.8,513.8 314.5,513.8"/>
<polygon fill="#ffffff" points="308.3,528.8 315.8,527.6 325.8,533.8 332.5,538.8 332.5,546.3 325.8,543.8 318.3,538.8 310.8,535.0"/>
<polygon fill="#ffffff" points="293.3,535.8 296.3,535.8 296.3,538.8 293.3,538.8"/>
<polygon fill="#ffffff" points="297.1,562.5 300.8,562.5 300.8,565.7 297.1,565.7"/>
<polygon fill="#ffffff" points="262.1,558.8 265.8,548.8 268.3,551.3 265.8,561.3 263.4,568.7 259.6,571.2"/>
<polygon fill="#fdbb84" points="275.8,481.4 281.3,480.1 282.1,483.9 277.1,487.6"/>
<polygon fill="#fdbb84" points="328.3,458.9 332.5,457.7 332.5,463.9 328.3,462.7"/>
<polygon fill="#fdbb84" points="318.8,478.9 322.0,477.6 322.8,485.1 319.5,486.4"/>
<polygon fill="#fdbb84" points="208.9,520.1 210.9,520.1 210.9,521.8 208.9,521.8"/>
<polygon fill="#fdbb84" points="305.8,565.0 310.8,558.8 318.3,558.8 325.8,561.3 332.5,561.3 332.5,582.0 304.5,582.0 302.8,573.7"/>
<polygon fill="#fc8d59" points="305.8,566.2 313.3,561.3 320.8,562.5 328.3,565.0 332.5,566.2 332.5,582.0 305.8,582.0 303.3,573.7"/>
<polygon fill="#ef6548" points="308.3,568.7 315.8,563.8 322.0,566.2 325.8,571.2 332.5,572.5 332.5,582.0 309.5,582.0 305.8,575.0"/>
<polygon fill="#e03c3c" points="312.0,571.2 318.3,568.7 325.8,573.7 332.5,575.0 332.5,582.0 313.3,582.0"/>
<polygon fill="#ac1111" points="318.3,575.0 325.8,573.7 332.5,576.2 332.5,582.0 318.3,582.0"/>
<polygon fill="#6b0000" points="320.8,576.7 327.0,575.7 328.3,582.0 320.8,582.0"/>
<polygon fill="#ffffcc" points="183.5,573.7 191.0,572.5 197.2,576.2 196.0,582.0 183.5,582.0"/>
<polygon fill="#fdbb84" points="188.5,570.0 193.5,567.5 199.7,564.3 199.7,566.2 194.7,570.0 189.7,572.5"/>
<polygon fill="#6b0000" points="174.7,576.7 178.0,575.7 177.2,580.0 173.5,582.0 173.0,580.0"/>
<polygon fill="#c7e9b4" points="343.2,399.0 406.9,399.0 411.9,409.0 409.4,424.0 404.4,433.9 398.2,441.4 396.9,456.4 404.4,471.4 406.9,483.9 400.6,493.9 401.9,506.3 403.1,516.3 403.1,528.8 396.9,533.8 391.9,528.8 386.9,508.8 366.9,508.8 347.0,516.3 332.0,521.3 332.0,476.4 342.0,481.4 352.0,478.9 355.7,468.9 357.0,456.4 347.0,443.9 345.7,429.0 350.7,421.5 347.0,411.5"/>
<polygon fill="#ffffcc" points="369.4,436.4 381.9,429.0 394.4,424.0 404.4,419.0 409.4,424.0 404.4,433.9 398.2,441.4 396.9,456.4 391.9,457.7 384.4,451.4 378.2,448.9 374.4,443.9"/>
<polygon fill="#ffffcc" points="357.0,456.4 364.5,448.9 373.2,451.4 371.9,463.9 366.9,473.9 359.5,483.9 354.5,491.4 357.0,498.8 364.5,503.8 362.0,511.3 352.0,513.8 347.0,506.3 349.5,496.4 353.2,483.9 355.7,468.9"/>
<polygon fill="#a6e8a0" points="343.2,399.0 362.0,399.0 359.5,409.0 357.0,416.5 350.7,421.5 347.0,411.5"/>
<polygon fill="#a6e8a0" points="386.9,468.9 394.4,463.9 399.4,471.4 398.2,481.4 390.7,483.9 386.9,476.4"/>
<polygon fill="#70c46e" points="378.2,458.9 381.9,457.7 381.9,467.6 378.2,468.9"/>
<polygon fill="#70c46e" points="334.5,481.4 340.7,480.1 343.2,491.4 339.5,493.9"/>
<polygon fill="#70c46e" points="347.5,436.4 350.0,436.4 350.0,443.9 347.5,443.9"/>
<polygon fill="#70c46e" points="355.7,448.9 359.5,450.2 359.0,456.4 355.7,455.2"/>
<polygon fill="#ffffff" points="363.2,417.7 370.7,417.0 369.4,426.5 362.0,428.5"/>
<polygon fill="#ffffff" points="362.0,401.5 369.4,401.0 369.4,406.0 363.2,406.5"/>
<polygon fill="#ffffff" points="379.4,455.2 391.9,456.4 394.4,463.9 385.7,468.9 380.7,473.9 378.2,463.9"/>
<polygon fill="#ffffff" points="378.2,485.1 389.4,483.9 391.9,498.8 388.2,506.3 379.4,508.8 376.9,498.8"/>
<polygon fill="#ffffff" points="339.5,501.3 348.2,500.8 348.2,508.8 340.7,509.3"/>
<polygon fill="#c7e9b4" points="441.8,424.0 449.3,414.0 451.8,399.0 498.5,399.0 498.5,424.0 491.8,436.4 485.5,445.2 481.8,453.9 476.8,452.7 471.8,447.7 475.5,458.9 481.8,463.9 481.8,471.4 476.8,481.4 471.8,476.4 466.8,471.4 461.8,481.4 459.3,486.4 454.3,498.8 449.3,503.8 446.8,508.8 449.3,518.8 448.1,528.8 445.6,528.8 444.3,516.3 441.8,508.8 441.8,498.8 436.8,483.9 430.6,478.9 426.9,468.9 431.8,458.9 431.8,448.9 436.8,443.9 439.3,433.9"/>
<polygon fill="#a6e8a0" points="449.3,399.0 471.8,399.0 466.8,409.0 459.3,414.0 454.3,424.0 449.3,414.0"/>
<polygon fill="#a6e8a0" points="479.3,399.0 498.5,399.0 498.5,424.0 491.8,436.4 488.0,431.5 484.3,424.0 481.8,411.5"/>
<polygon fill="#70c46e" points="491.8,399.0 498.5,399.0 498.5,422.7 493.0,433.9 483.0,440.2 478.0,435.2 486.8,430.2 493.0,420.2 494.3,409.0"/>
<polygon fill="#41b6c4" points="470.5,436.4 476.8,432.7 481.8,438.9 485.5,443.9 481.8,446.4 480.5,452.7 476.8,446.4 471.8,445.2 469.3,440.2"/>
<polygon fill="#ffffcc" points="441.8,436.4 449.3,433.9 454.3,443.9 459.3,456.4 464.3,463.9 461.8,471.4 456.8,463.9 451.8,453.9 446.8,446.4"/>
<polygon fill="#ffffff" points="468.8,464.4 475.5,464.4 476.3,468.9 469.3,469.4"/>
<polygon fill="#a6e8a0" points="454.3,424.0 461.8,431.5 468.0,441.4 471.8,448.9 466.8,451.4 461.8,443.9 455.6,436.4"/>
<polygon fill="#ffffcc" points="426.9,468.9 431.8,456.4 454.3,458.9 461.8,481.4 454.3,498.8 449.3,503.8 444.3,508.8 441.8,498.8 436.8,483.9 430.6,478.9"/>
<polygon fill="#fdbb84" points="398.2,441.4 404.4,433.9 411.9,430.2 414.4,438.9 413.1,448.9 414.4,457.7 421.9,460.2 431.8,457.7 439.3,461.4 446.8,463.9 453.1,462.7 454.3,473.9 451.8,486.4 449.3,496.4 444.3,491.4 441.8,483.9 436.8,473.9 431.8,467.6 424.4,470.1 416.9,473.9 411.9,477.6 404.4,471.4 400.6,461.4 396.9,456.4"/>
<polygon fill="#fc8d59" points="440.6,470.1 445.6,466.4 450.6,470.1 451.3,476.4 446.8,481.4 441.8,478.9"/>
<polygon fill="#41b6c4" points="431.8,430.2 436.8,429.0 438.1,433.9 435.6,440.2 433.1,446.4 430.6,455.2 424.4,455.9 422.4,447.7 426.9,445.2 431.8,443.9"/>
<polygon fill="#70c46e" points="435.6,435.2 439.3,436.4 436.8,445.2 433.8,446.4"/>
<polygon fill="#ffffcc" points="420.6,399.0 435.6,399.0 433.1,411.5 426.9,409.0 421.9,404.0"/>
<polygon fill="#fdd49e" points="435.6,399.0 444.3,399.0 445.6,406.5 447.3,416.5 443.1,420.2 436.8,417.7 433.1,411.5 434.3,404.0"/>
<polygon fill="#c7e9b4" points="411.9,498.8 414.4,493.9 424.4,490.1 431.8,493.9 439.3,492.6 441.8,498.8 441.8,508.8 439.3,516.3 434.3,521.3 431.8,528.8 436.8,533.8 444.3,538.8 449.3,543.8 446.8,553.8 445.6,565.0 441.8,566.2 439.3,575.0 434.3,571.2 431.8,561.3 433.1,548.8 430.6,538.8 426.9,536.3 421.9,538.8 416.9,533.8 414.4,528.8 410.6,530.1 411.9,523.8 413.1,511.3"/>
<polygon fill="#a6e8a0" points="411.9,498.8 414.4,493.9 424.4,490.1 426.9,498.8 429.4,508.8 426.9,516.3 421.9,521.3 416.9,528.8 411.9,526.3 413.1,511.3"/>
<polygon fill="#70c46e" points="413.1,495.1 418.1,491.9 424.4,491.4 424.4,497.6 418.1,497.6 413.1,501.3"/>
<polygon fill="#ffffff" points="418.1,498.8 423.9,498.4 423.9,502.6 418.1,502.6"/>
<polygon fill="#edf8b1" points="431.8,521.3 439.3,516.3 441.8,528.8 436.8,533.8 430.6,533.8"/>
<polygon fill="#edf8b1" points="419.4,533.8 426.9,528.8 430.6,538.8 424.4,541.3"/>
<polygon fill="#4090ca" points="405.6,485.1 408.1,486.4 410.6,493.9 406.9,492.6"/>
<polygon fill="#70c46e" points="409.9,526.3 413.1,525.1 413.1,530.1 409.9,530.8"/>
<polygon fill="#ffffcc" points="464.3,525.1 468.0,523.8 470.5,533.8 474.3,541.3 470.5,543.8 466.8,538.8 464.3,531.3"/>
<polygon fill="#ffffcc" points="493.0,515.1 498.5,516.3 498.5,520.1 493.0,519.3"/>
<polygon fill="#edf8b1" points="416.9,576.2 420.6,575.0 421.9,580.0 418.1,581.2"/>
<polygon fill="#edf8b1" points="424.4,576.2 429.4,576.7 429.9,582.0 425.6,582.0"/>
<polygon fill="#ffffcc" points="347.0,516.3 366.9,508.8 386.9,508.8 393.2,518.8 399.4,533.8 398.2,548.8 399.4,568.7 398.2,582.0 332.0,582.0 332.0,538.8 339.5,528.8"/>
<polygon fill="#fdbb84" points="347.0,516.3 357.0,508.8 366.9,511.3 374.4,513.8 381.9,508.8 390.7,507.6 393.2,513.8 390.7,523.8 391.9,528.8 386.9,538.8 385.7,548.8 388.2,561.3 385.7,571.2 376.9,573.7 376.9,582.0 332.0,582.0 332.0,553.8 337.0,546.3 344.5,541.3 347.0,528.8"/>
<polygon fill="#fdd49e" points="332.0,543.8 342.0,542.5 347.0,548.8 339.5,553.8 332.0,556.3"/>
<polygon fill="#ef6548" points="348.2,518.8 359.5,516.3 369.4,518.8 379.4,513.8 388.2,513.8 388.2,523.8 384.4,531.3 383.2,541.3 385.7,553.8 386.9,563.8 383.2,571.2 374.4,571.2 369.4,573.7 362.0,571.2 354.5,582.0 332.0,582.0 332.0,558.8 342.0,551.3 349.5,543.8 350.7,531.3"/>
<polygon fill="#e03c3c" points="350.7,521.3 362.0,521.3 371.9,523.8 379.4,521.3 381.9,528.8 379.4,536.3 381.9,548.8 381.9,558.8 374.4,561.3 369.4,568.7 362.0,568.7 352.0,578.7 342.0,582.0 332.0,582.0 332.0,561.3 342.0,556.3 352.0,548.8 353.2,533.8"/>
<polygon fill="#c62828" points="354.5,526.3 364.5,526.3 374.4,528.8 376.9,538.8 380.7,548.8 376.9,558.8 366.9,561.3 359.5,566.2 349.5,571.2 339.5,573.7 332.0,571.2 332.0,562.5 342.0,558.8 353.2,551.3 355.7,538.8"/>
<polygon fill="#ac1111" points="355.7,533.8 364.5,531.3 371.9,536.3 369.4,543.8 364.5,548.8 357.0,546.3 353.2,541.3"/>
<polygon fill="#ac1111" points="334.5,561.3 344.5,560.0 352.0,563.8 349.5,570.0 339.5,571.2 333.2,568.7"/>
<polygon fill="#940a0a" points="358.2,536.3 365.7,535.0 368.2,540.0 363.2,543.8 358.2,541.3"/>
<polygon fill="#940a0a" points="335.7,562.5 345.7,561.8 349.5,565.7 343.2,568.7 337.0,567.5"/>
<polygon fill="#6b0000" points="360.7,536.8 365.7,536.8 365.7,540.8 360.7,540.8"/>
<polygon fill="#6b0000" points="339.5,563.3 345.7,563.3 345.7,566.2 339.5,566.2"/>
<polygon fill="#fdbb84" points="363.2,563.8 369.4,562.5 371.9,568.7 365.7,571.2"/>
<polygon fill="#fdbb84" points="332.0,451.4 335.0,452.7 335.7,461.4 334.0,465.9 332.0,465.2"/>
<polygon fill="#4090ca" points="506.8,402.0 513.1,399.0 516.1,399.0 515.1,402.8 510.6,407.0 507.5,406.0"/>
<polygon fill="#70c46e" points="498.0,406.5 500.5,407.8 500.0,419.1 498.0,419.1"/>
<polygon fill="#a6e8a0" points="523.1,399.0 573.3,399.0 575.8,409.0 573.3,419.1 578.4,429.1 579.6,439.2 575.8,446.7 574.6,456.8 573.3,469.3 569.6,476.8 565.8,481.9 558.3,483.1 550.7,480.6 547.0,476.8 543.2,471.8 541.9,464.3 538.2,456.8 539.4,446.7 541.9,439.2 539.4,431.6 534.4,426.6 530.6,419.1 528.1,411.6 523.1,406.5"/>
<polygon fill="#c7e9b4" points="538.2,456.8 548.2,461.8 558.3,455.5 568.3,454.2 567.1,464.3 569.6,471.8 565.8,476.8 558.3,474.3 550.7,476.8 544.5,473.1 541.9,464.3"/>
<polygon fill="#c7e9b4" points="525.6,406.5 535.7,409.0 539.4,419.1 541.9,431.6 539.4,432.9 534.4,426.6 530.6,419.1 528.1,411.6"/>
<polygon fill="#ffffff" points="538.2,407.8 543.2,406.5 560.8,426.6 559.5,431.6 554.5,427.9 544.5,416.6 538.2,411.6"/>
<polygon fill="#c7e9b4" points="506.8,421.6 510.6,426.6 515.6,430.4 518.1,440.4 523.1,445.5 531.9,446.7 533.2,450.5 524.4,449.2 519.3,448.0 519.3,453.0 513.1,449.2 509.3,441.7 504.3,436.7 508.0,434.2"/>
<polygon fill="#ffffcc" points="516.8,441.7 520.6,442.9 521.9,446.7 518.1,446.2"/>
<polygon fill="#ffffcc" points="518.1,455.5 521.9,456.3 521.9,458.8 518.1,458.3"/>
<polygon fill="#a6e8a0" points="554.5,484.4 560.8,485.6 560.8,490.7 555.8,492.4"/>
<polygon fill="#c7e9b4" points="535.7,490.7 548.2,493.2 558.3,490.7 573.3,489.4 583.4,493.2 593.4,498.2 598.5,504.5 602.2,509.5 601.0,519.5 608.5,523.3 614.8,529.6 617.3,537.1 613.5,544.7 614.8,552.2 606.0,549.7 603.5,559.7 604.7,567.3 598.5,569.8 590.9,572.3 585.9,577.3 583.4,583.1 535.7,583.1 536.9,574.8 539.4,567.3 528.1,564.7 529.4,553.4 535.7,549.7 538.2,539.6 548.2,539.6 552.0,529.6 533.2,530.8 518.1,529.6 516.8,524.6 533.2,523.3 548.2,522.1 555.8,517.0 548.2,514.5 538.2,512.0 539.4,504.5 540.7,498.2"/>
<polygon fill="#ffffff" points="549.5,522.1 555.8,521.6 567.1,528.3 565.8,531.6 558.3,529.6"/>
<polygon fill="#edf8b1" points="594.7,529.6 602.2,522.1 609.8,523.3 614.8,529.6 608.5,537.1 608.5,544.7 601.0,552.2 597.2,558.5 593.4,557.2 588.4,549.7 592.2,542.1 593.4,534.6"/>
<polygon fill="#edf8b1" points="564.5,496.9 568.3,496.4 570.8,500.7 565.8,504.0"/>
<polygon fill="#edf8b1" points="553.2,529.6 559.5,530.8 558.3,542.1 555.3,545.9 552.7,538.4"/>
<polygon fill="#a6e8a0" points="538.2,542.1 543.2,542.1 541.9,550.9 538.2,552.2"/>
<polygon fill="#a6e8a0" points="533.2,559.7 540.7,559.7 545.7,566.0 538.2,567.3 531.9,566.0"/>
<polygon fill="#ffffff" points="536.9,557.2 541.9,557.2 541.9,561.0 536.9,561.0"/>
<polygon fill="#ffffff" points="544.5,576.0 550.7,576.0 550.7,579.8 544.5,579.8"/>
<polygon fill="#ffffff" points="575.8,574.8 583.4,573.5 584.6,579.8 578.4,581.1"/>
<polygon fill="#c7e9b4" points="526.1,476.3 529.4,477.4 531.9,480.6 527.6,479.9"/>
<polygon fill="#c7e9b4" points="609.8,480.6 614.0,479.9 616.0,484.4 608.5,485.6"/>
<polygon fill="#c7e9b4" points="641.1,488.2 651.7,487.4 651.7,489.4 641.6,489.9"/>
<polygon fill="#c7e9b4" points="653.7,489.9 658.7,489.9 658.7,491.4 653.7,491.4"/>
<polygon fill="#c7e9b4" points="607.2,512.5 612.3,512.5 612.3,516.5 607.2,516.5"/>
<polygon fill="#c7e9b4" points="644.9,507.0 651.2,504.5 661.2,499.5 665.5,498.2 665.5,517.0 658.7,514.5 651.2,510.8"/>
<polygon fill="#70c46e" points="661.7,491.9 665.5,491.9 665.5,498.2 661.7,498.2"/>
<polygon fill="#c7e9b4" points="618.5,514.5 623.6,513.3 633.6,517.0 641.1,522.1 648.7,529.6 658.7,535.9 665.5,537.1 665.5,542.1 656.2,539.6 646.2,533.4 638.6,525.8 628.6,519.5 619.8,518.3"/>
<polygon fill="#edf8b1" points="629.8,515.0 634.9,515.0 642.4,523.3 651.2,530.8 660.0,535.9 665.5,536.6 665.5,540.9 656.2,538.4 647.4,532.1 638.6,524.6 632.4,519.5"/>
<polygon fill="#c7e9b4" points="622.3,536.6 633.6,534.6 641.1,533.4 643.7,535.9 633.6,537.1 623.6,539.1"/>
<polygon fill="#ffffcc" points="498.0,515.0 501.0,515.0 501.8,519.5 498.0,520.0"/>
<polygon fill="#70c46e" points="622.8,583.1 624.8,576.0 628.6,569.8 634.9,564.7 643.7,561.0 653.7,558.5 661.2,558.5 665.5,559.7 665.5,583.1"/>
<polygon fill="#a6e8a0" points="628.6,583.1 629.8,576.0 633.6,569.8 639.9,565.2 648.7,562.2 658.7,561.0 665.5,562.2 665.5,583.1"/>
<polygon fill="#c7e9b4" points="634.9,583.1 636.1,576.0 641.1,571.0 648.7,567.3 658.7,566.0 665.5,567.3 665.5,583.1"/>
<polygon fill="#ffffcc" points="638.6,567.3 643.7,566.0 646.2,572.3 641.1,573.5"/>
<polygon fill="#ffffcc" points="651.2,579.8 658.7,578.6 661.2,583.1 651.2,583.1"/>
<polygon fill="#54278f" points="0.0,582.0 15.0,582.0 16.2,587.0 18.7,592.0 18.0,600.7 13.7,604.5 7.5,607.0 0.0,608.2"/>
<polygon fill="#54278f" points="118.6,594.5 123.6,592.5 129.8,594.5 132.3,600.7 131.1,609.5 127.3,613.2 119.8,615.7 115.3,616.9 114.8,612.0 117.3,605.7 116.8,599.5"/>
<polygon fill="#66abd7" points="122.3,599.0 126.1,599.0 126.1,602.0 122.3,602.0"/>
<polygon fill="#6b0000" points="96.1,612.0 99.4,613.2 102.3,618.2 109.8,619.4 119.3,618.9 119.8,623.2 112.3,624.9 104.8,626.9 101.1,624.4 98.6,619.4 96.1,615.7"/>
<polygon fill="#6b0000" points="51.2,615.0 52.9,616.9 56.2,617.4 55.4,620.7 52.4,621.4"/>
<polygon fill="#6b0000" points="77.9,623.9 81.1,623.2 82.9,619.9 84.9,624.4 86.1,628.2 87.4,631.4 84.9,631.4 83.6,628.2 79.9,626.9"/>
<polygon fill="#6b0000" points="96.1,637.4 98.6,638.2 99.8,641.9 102.3,643.2 102.8,649.4 101.1,650.6 96.1,648.9 97.9,645.7 96.9,641.9"/>
<polygon fill="#6b0000" points="106.1,633.9 111.8,633.9 111.8,635.9 106.1,635.9"/>
<polygon fill="#6b0000" points="124.3,628.2 127.8,626.4 129.3,629.4 126.1,631.9"/>
<polygon fill="#6b0000" points="143.0,638.9 149.8,638.9 149.8,640.9 143.0,640.9"/>
<polygon fill="#6b0000" points="9.5,675.6 20.0,672.4 30.0,670.6 37.4,669.9 37.9,678.1 32.5,681.8 10.0,681.8"/>
<polygon fill="#fdbb84" points="72.9,593.2 77.4,591.5 79.4,589.5 81.1,593.2 83.6,595.7 81.1,600.7 77.9,603.2 77.4,606.5 73.6,605.7 72.4,599.5"/>
<polygon fill="#fdbb84" points="16.2,631.9 20.0,631.4 21.0,635.7 16.5,635.7"/>
<polygon fill="#fdd49e" points="82.4,585.7 87.4,582.0 104.8,582.0 99.8,584.5 92.4,586.5 84.9,589.0"/>
<polygon fill="#ffffcc" points="59.9,644.4 63.7,641.9 65.4,638.9 67.9,643.2 71.9,647.4 67.4,649.9 63.7,651.4 59.9,649.4"/>
<polygon fill="#6b0000" points="166.0,583.2 169.7,582.0 174.7,582.0 174.0,587.0 176.0,589.5 172.2,592.5 168.5,590.7 166.0,591.5"/>
<polygon fill="#6b0000" points="189.7,592.0 197.2,592.0 197.2,595.0 189.7,595.0"/>
<polygon fill="#6b0000" points="181.0,587.5 183.0,587.5 183.0,589.5 181.0,589.5"/>
<polygon fill="#6b0000" points="174.0,670.6 176.5,671.4 177.2,674.9 179.7,674.9 179.7,676.4 173.5,676.4"/>
<polygon fill="#6b0000" points="193.0,678.1 199.7,678.1 199.7,681.8 193.0,681.8"/>
<polygon fill="#6b0000" points="187.0,660.9 188.0,660.9 188.0,662.9 187.0,662.9"/>
<polygon fill="#ffffcc" points="186.0,582.0 197.2,582.0 196.0,585.7 189.7,587.5 186.0,585.7"/>
<polygon fill="#ffffcc" points="182.2,603.2 187.2,600.0 192.2,600.7 193.5,609.5 192.2,615.7 186.0,619.4 181.5,618.2 180.5,609.5"/>
<polygon fill="#ac1111" points="227.2,589.0 231.4,587.0 237.1,587.0 239.6,591.5 237.1,595.7 231.4,595.0 227.9,594.0"/>
<polygon fill="#c62828" points="249.6,592.5 252.1,593.2 255.9,596.5 260.9,597.5 260.4,600.0 254.6,599.0 250.9,595.7"/>
<polygon fill="#c7e9b4" points="239.6,593.2 245.9,592.5 249.6,598.2 247.1,603.2 242.1,602.0 239.6,597.0"/>
<polygon fill="#edf8b1" points="262.1,582.0 290.8,582.0 290.8,597.0 295.8,607.0 305.8,612.0 315.8,619.4 325.8,624.4 332.5,631.9 332.5,682.1 235.9,682.1 238.4,666.9 240.9,656.9 237.1,646.9 240.9,641.9 245.9,631.9 242.1,623.2 248.4,621.9 258.4,631.9 262.1,624.4 265.8,619.4 264.6,607.0 262.1,597.0 265.8,592.0"/>
<polygon fill="#c7e9b4" points="262.1,582.0 290.8,582.0 290.8,597.0 295.8,607.0 293.3,614.5 285.8,619.4 275.8,616.9 265.8,619.4 264.6,607.0 262.1,597.0 265.8,592.0"/>
<polygon fill="#edf8b1" points="234.6,604.5 238.4,609.5 240.9,619.4 242.1,623.2 245.9,631.9 240.9,641.9 237.1,646.9 238.4,631.9 235.9,619.4"/>
<polygon fill="#c7e9b4" points="258.4,631.9 262.1,630.7 263.4,644.4 259.6,646.9 257.1,639.4"/>
<polygon fill="#c7e9b4" points="280.8,640.7 285.8,638.2 288.3,646.9 283.3,651.9 279.6,648.2"/>
<polygon fill="#c7e9b4" points="294.6,619.4 300.8,619.4 302.0,624.4 295.8,625.7"/>
<polygon fill="#c7e9b4" points="283.3,629.4 293.3,626.9 295.8,631.9 288.3,635.7 283.3,634.4"/>
<polygon fill="#edf8b1" points="235.9,682.1 238.4,666.9 243.4,659.4 250.9,664.4 260.9,666.9 275.8,664.4 280.8,669.4 279.6,682.1"/>
<polygon fill="#fdd49e" points="242.1,623.2 248.4,621.9 252.1,626.9 255.9,634.4 257.9,641.9 257.1,648.2 250.9,649.4 245.9,644.4 246.4,634.4 243.4,629.4"/>
<polygon fill="#fdbb84" points="249.6,630.7 254.6,633.2 256.4,641.9 252.1,645.7 249.6,639.4"/>
<polygon fill="#fdd49e" points="280.8,639.4 288.3,631.9 295.8,626.9 305.8,619.4 315.8,619.4 325.8,624.4 332.5,631.9 332.5,682.1 279.6,682.1 282.1,669.4 285.8,656.9 282.1,649.4"/>
<polygon fill="#ffffcc" points="295.8,607.0 305.8,612.0 315.8,619.4 305.8,619.4 298.3,616.9"/>
<polygon fill="#fdbb84" points="279.6,682.1 282.1,669.4 295.8,664.4 300.8,656.9 310.8,651.9 320.8,654.4 325.8,661.9 332.5,664.4 332.5,682.1"/>
<polygon fill="#ef6548" points="282.1,638.2 290.8,633.2 295.8,626.9 299.5,631.9 303.3,640.7 305.8,646.9 300.8,649.4 295.8,645.7 290.8,648.2 290.8,653.1 287.1,651.9 283.3,645.7"/>
<polygon fill="#fc8d59" points="310.8,635.7 315.8,638.2 318.3,644.4 315.8,648.2 312.0,644.4"/>
<polygon fill="#fc8d59" points="305.8,621.9 309.5,624.4 308.3,629.4 304.5,626.9"/>
<polygon fill="#ef6548" points="318.3,654.4 323.3,656.9 328.3,664.4 332.5,668.1 332.5,676.9 325.8,671.9 320.8,664.4"/>
<polygon fill="#fc8d59" points="313.3,666.9 318.3,665.6 320.8,671.9 317.0,675.6 313.3,673.1"/>
<polygon fill="#fdd49e" points="290.8,597.0 300.8,587.0 310.8,582.0 332.5,582.0 332.5,631.9 325.8,624.4 315.8,619.4 305.8,612.0 295.8,607.0"/>
<polygon fill="#fc8d59" points="295.8,605.7 302.0,594.5 309.5,587.0 315.8,582.0 332.5,582.0 332.5,626.9 325.8,621.9 318.3,616.9 310.8,612.0 303.3,608.2"/>
<polygon fill="#e03c3c" points="300.8,593.2 308.3,587.0 315.8,582.0 332.5,582.0 332.5,610.7 325.8,609.5 320.8,607.0 315.8,602.0 309.5,599.5 304.5,600.7"/>
<polygon fill="#ac1111" points="313.3,589.5 318.3,583.2 332.5,582.0 332.5,604.5 325.8,604.5 319.5,600.7 315.8,595.7"/>
<polygon fill="#940a0a" points="320.8,582.0 332.5,582.0 332.5,592.0 325.8,589.5"/>
<polygon fill="#ffffff" points="302.0,595.7 306.3,594.5 307.8,602.0 303.3,603.2"/>
<polygon fill="#ffffff" points="323.8,593.2 329.5,592.5 330.8,600.7 325.8,602.5 323.8,598.2"/>
<polygon fill="#ffffff" points="315.8,675.6 325.8,674.9 327.0,680.6 317.0,680.6"/>
<polygon fill="#70c46e" points="322.0,680.6 329.5,679.9 329.5,682.1 322.0,682.1"/>
<polygon fill="#ffffcc" points="362.0,582.0 404.4,582.0 416.9,582.0 414.4,589.5 411.9,599.5 406.9,604.5 401.9,609.5 396.9,621.9 404.4,631.9 411.9,638.2 414.4,646.9 406.9,648.2 396.9,646.9 391.9,639.4 383.2,636.9 374.4,633.2 366.9,635.7 359.5,636.9 357.0,631.9 362.0,626.9 369.4,626.9 376.9,623.2 384.4,619.4 388.2,614.5 390.7,607.0 388.2,604.5 376.9,599.5 369.4,597.0 373.2,592.0 369.4,587.0"/>
<polygon fill="#edf8b1" points="374.4,582.0 404.4,582.0 414.4,589.5 411.9,599.5 404.4,602.0 396.9,609.5 391.9,607.0 388.2,604.5 376.9,599.5 373.2,592.0"/>
<polygon fill="#c7e9b4" points="393.2,614.5 401.9,604.5 408.1,602.0 409.4,605.7 403.1,609.5 398.2,616.9 394.4,620.7"/>
<polygon fill="#c7e9b4" points="394.4,641.9 404.4,636.9 411.9,638.2 414.4,646.9 404.4,648.9 396.9,647.4"/>
<polygon fill="#ffffcc" points="332.0,639.4 357.0,635.7 381.9,636.9 380.7,646.9 376.9,656.9 375.7,664.4 369.4,664.4 366.9,656.9 359.5,654.4 355.7,664.4 359.5,674.4 363.2,682.1 347.0,682.1 344.5,669.4 337.0,666.9 332.0,668.1"/>
<polygon fill="#edf8b1" points="368.2,644.4 375.7,643.2 378.2,656.9 374.4,664.4 369.4,663.1 368.9,654.4"/>
<polygon fill="#70c46e" points="340.0,675.6 343.2,674.9 344.5,680.6 340.7,680.6"/>
<polygon fill="#fdbb84" points="332.0,671.9 334.5,673.1 335.0,679.4 332.0,680.6"/>
<polygon fill="#edf8b1" points="396.9,682.1 400.6,671.9 403.1,664.4 404.4,656.9 406.9,651.9 411.9,654.4 414.4,659.4 419.4,665.6 424.4,670.6 431.8,674.4 431.8,682.1"/>
<polygon fill="#c7e9b4" points="416.9,682.1 418.1,674.4 423.1,670.6 428.1,674.4 430.6,682.1"/>
<polygon fill="#ffffcc" points="401.9,666.9 406.9,665.6 409.4,671.9 405.6,676.9 401.4,674.4"/>
<polygon fill="#c7e9b4" points="425.6,654.4 430.6,645.7 436.8,648.2 441.8,656.9 443.1,666.9 444.3,682.1 431.8,682.1 430.6,669.4 429.4,659.4"/>
<polygon fill="#a6e8a0" points="430.6,645.7 436.8,648.2 440.6,656.9 434.3,656.9 430.6,651.9"/>
<polygon fill="#70c46e" points="438.1,633.2 444.3,631.9 446.8,640.7 445.6,649.4 444.3,664.4 445.6,674.4 446.8,682.1 441.8,682.1 440.6,666.9 439.3,649.4 438.1,640.7"/>
<polygon fill="#41b6c4" points="441.3,623.2 448.1,619.4 453.1,619.4 451.8,623.2 448.1,625.7 447.3,631.9 444.3,631.9 441.8,631.9"/>
<polygon fill="#41b6c4" points="442.3,639.4 444.8,639.4 445.6,656.9 444.3,664.4 442.8,664.4"/>
<polygon fill="#41b6c4" points="431.8,678.1 434.8,676.9 436.8,682.1 433.1,682.1"/>
<polygon fill="#c7e9b4" points="441.3,599.0 444.8,598.2 444.3,604.5 443.1,609.5 438.1,614.5 436.3,614.0 439.3,608.2 441.3,604.0"/>
<polygon fill="#70c46e" points="446.8,678.1 454.3,678.9 455.6,682.1 446.8,682.1"/>
<polygon fill="#c7e9b4" points="353.2,592.0 362.0,588.2 369.4,592.0 373.2,597.0 369.4,604.5 366.9,612.0 360.7,616.9 355.7,612.0 352.0,604.5"/>
<polygon fill="#fdbb84" points="332.0,582.0 362.0,582.0 364.5,589.5 359.5,594.5 353.2,592.0 352.0,604.5 355.7,612.0 359.5,619.4 363.2,626.9 362.0,631.9 357.0,635.7 349.5,654.4 342.0,656.9 332.0,639.4"/>
<polygon fill="#c7e9b4" points="354.5,593.2 362.0,589.0 369.4,592.0 373.2,597.0 369.4,604.5 366.9,612.0 360.7,616.9 357.0,612.0 353.2,604.5"/>
<polygon fill="#fc8d59" points="332.0,582.0 357.0,582.0 352.0,589.5 349.5,597.0 350.7,607.0 354.5,614.5 355.7,621.9 359.5,626.9 357.0,631.9 355.7,640.7 350.7,646.9 349.5,654.4 345.7,656.9 342.0,651.9 339.5,644.4 332.0,640.7"/>
<polygon fill="#ef6548" points="332.0,597.0 339.5,599.5 345.7,607.0 349.5,616.9 353.2,621.9 352.0,628.2 347.0,630.7 350.7,639.4 347.0,646.9 343.2,649.4 340.7,644.4 337.0,641.9 332.0,639.4 332.0,631.9 339.5,629.4 344.5,624.4 339.5,616.9 332.0,614.5"/>
<polygon fill="#e03c3c" points="332.0,582.0 354.5,582.0 349.5,589.5 345.7,595.7 347.0,604.5 342.0,609.5 337.0,607.0 332.0,604.5"/>
<polygon fill="#ac1111" points="332.0,582.0 350.7,582.0 345.7,588.2 342.0,593.2 337.0,592.0 332.0,594.5"/>
<polygon fill="#ac1111" points="332.0,604.5 338.2,605.7 342.0,610.7 338.2,614.5 332.0,613.2"/>
<polygon fill="#fdbb84" points="332.0,616.9 339.5,618.2 344.5,624.4 339.5,629.4 332.0,631.9"/>
<polygon fill="#ef6548" points="369.4,582.0 379.4,582.0 378.2,585.0 373.2,588.2 369.9,585.7"/>
<polygon fill="#c7e9b4" points="535.7,582.0 583.4,582.0 580.9,584.5 575.8,589.5 578.4,593.3 573.3,599.6 568.3,603.3 564.5,608.4 558.3,610.9 552.0,614.6 545.7,615.9 538.2,614.6 533.2,617.2 534.4,622.2 544.5,623.4 543.2,628.5 535.7,629.7 529.4,631.0 523.1,628.5 521.9,622.2 525.6,614.6 524.4,608.4 529.4,603.3 533.2,598.3 539.4,594.6 538.2,588.3"/>
<polygon fill="#a6e8a0" points="539.4,587.0 548.2,584.5 552.0,589.5 549.5,597.1 547.0,603.3 541.9,604.6 538.2,599.6 540.7,593.3"/>
<polygon fill="#ffffcc" points="525.6,624.7 533.2,623.4 535.7,628.5 528.1,631.0"/>
<polygon fill="#ffffcc" points="528.1,634.7 538.2,636.0 535.7,639.8 529.4,639.3"/>
<polygon fill="#c7e9b4" points="570.3,620.9 578.4,619.7 579.6,627.2 575.8,628.5 576.4,633.5 573.3,633.5 572.8,627.7 570.3,625.9"/>
<polygon fill="#a6e8a0" points="511.8,638.5 518.1,636.0 523.1,641.0 526.9,646.0 523.1,647.8 518.1,646.0 513.1,647.3 510.6,643.5"/>
<polygon fill="#a6e8a0" points="516.8,653.6 524.4,654.3 524.4,657.3 517.6,656.8"/>
<polygon fill="#c7e9b4" points="558.3,627.2 562.0,629.7 565.8,634.7 572.1,638.5 574.6,644.8 573.3,648.5 577.1,654.8 573.3,657.3 568.3,658.6 565.8,662.4 558.3,661.9 552.0,657.3 549.5,651.1 547.0,647.3 555.8,648.5 558.3,642.3 557.0,634.7"/>
<polygon fill="#c7e9b4" points="504.3,659.8 510.6,658.6 518.1,662.4 516.8,667.4 508.0,668.6 504.3,666.1"/>
<polygon fill="#ffffcc" points="509.3,661.1 516.8,662.9 515.6,667.4 509.3,666.9"/>
<polygon fill="#ffffcc" points="521.9,676.2 530.6,674.9 533.2,679.9 523.1,681.2"/>
<polygon fill="#70c46e" points="582.1,637.2 588.4,632.2 593.4,622.2 599.7,614.6 606.0,609.6 612.3,615.9 618.5,609.6 621.1,597.1 622.3,582.0 665.5,582.0 665.5,681.9 578.4,681.9 583.4,674.9 584.6,657.3 582.1,647.3"/>
<polygon fill="#a6e8a0" points="584.6,681.9 587.2,667.4 590.9,654.8 598.5,649.8 603.5,639.8 609.8,632.2 616.0,639.8 618.5,632.2 619.8,612.1 623.6,597.1 626.1,582.0 665.5,582.0 665.5,681.9"/>
<polygon fill="#c7e9b4" points="606.0,681.9 606.0,667.4 608.5,654.8 616.0,652.3 621.1,642.3 623.6,627.2 626.1,612.1 631.1,597.1 634.9,582.0 665.5,582.0 665.5,681.9"/>
<polygon fill="#ffffcc" points="618.5,681.9 621.1,667.4 628.6,654.8 633.6,642.3 638.6,629.7 646.2,619.7 648.7,607.1 653.7,594.6 658.7,582.0 665.5,582.0 665.5,681.9"/>
<polygon fill="#c7e9b4" points="651.2,632.2 658.7,627.2 665.5,624.7 665.5,681.9 638.6,681.9 641.1,667.4 648.7,657.3 658.7,647.3 661.2,639.8 653.7,639.8"/>
<polygon fill="#edf8b1" points="628.6,681.9 631.1,664.9 638.6,654.8 648.7,644.8 658.7,639.8 663.7,644.8 658.7,652.3 648.7,662.4 643.7,672.4 642.4,681.9"/>
<polygon fill="#fdbb84" points="637.4,622.2 642.4,614.6 648.7,608.4 655.0,605.9 658.7,599.6 662.5,597.1 663.7,602.1 661.2,607.1 662.5,612.1 657.5,615.9 651.2,614.6 646.2,620.9 644.9,628.5 641.1,632.2 637.4,628.5"/>
<polygon fill="#fdbb84" points="655.0,593.3 661.2,592.0 663.7,595.8 658.7,598.3"/>
<polygon fill="#fdbb84" points="611.0,678.7 618.5,676.9 621.1,681.9 609.8,681.9"/>
<polygon fill="#70c46e" points="653.7,619.7 658.7,617.2 660.7,622.2 655.0,623.4"/>
<polygon fill="#41b6c4" points="608.5,617.2 614.8,614.6 617.3,619.7 617.3,627.2 616.5,638.5 614.0,636.0 611.0,631.0 606.5,627.2"/>
<polygon fill="#41b6c4" points="619.0,594.6 621.6,594.6 621.6,597.6 619.0,597.6"/>
<polygon fill="#ffffff" points="599.7,624.7 604.7,623.4 606.0,628.5 601.0,631.0"/>
<polygon fill="#c7e9b4" points="599.7,615.9 604.7,614.6 606.5,622.2 602.2,623.4"/>
<polygon fill="#a6e8a0" points="633.6,677.4 641.1,676.2 642.4,681.9 633.6,681.9"/>
<polygon fill="#a6e8a0" points="651.2,674.9 658.7,673.7 661.2,681.9 651.2,681.9"/>
<g clip-path="url(#k1)">
<polygon fill="#ffffcc" points="440.0,130.0 473.2,130.0 472.0,145.3 469.4,160.7 466.8,176.0 465.6,193.9 468.1,214.4 470.7,232.3 472.0,250.2 470.7,268.0 468.1,283.4 465.6,300.0 440.0,300.0"/>
<polygon fill="#edf8b1" points="470.7,130.0 491.1,130.0 489.8,140.2 480.9,144.1 473.2,142.8"/>
<polygon fill="#c7e9b4" points="472.0,145.3 480.9,144.1 489.8,140.2 498.8,141.5 516.7,140.2 524.4,145.3 529.5,155.6 526.9,168.3 519.2,173.5 516.7,181.1 521.8,186.2 514.1,191.4 510.3,201.6 512.9,214.4 514.1,222.0 524.4,219.5 534.6,224.6 541.0,229.7 547.4,242.5 555.0,257.8 560.2,273.2 565.3,288.5 567.8,300.0 468.1,300.0 470.7,268.0 472.0,250.2 470.7,232.3 468.1,214.4 465.6,193.9 466.8,176.0 469.4,160.7"/>
<polygon fill="#c7e9b4" points="489.8,130.0 521.8,130.0 524.4,145.3 516.7,140.2 498.8,141.5 489.8,140.2"/>
<polygon fill="#fdbb84" points="440.0,130.0 445.1,130.0 450.2,145.3 455.3,163.2 459.2,181.1 464.3,204.1 465.6,224.6 464.3,232.3 465.6,247.6 466.8,262.9 464.3,266.8 461.7,252.7 459.2,232.3 457.9,214.4 454.1,193.9 448.9,173.5 443.8,155.6 440.0,145.3"/>
<polygon fill="#a6e8a0" points="509.0,188.8 516.7,181.1 521.8,186.2 528.2,191.4 532.0,201.6 533.3,214.4 538.4,219.5 541.0,229.7 534.6,224.6 524.4,219.5 514.1,222.0 512.9,214.4 510.3,201.6"/>
<polygon fill="#a6e8a0" points="541.0,229.7 547.4,242.5 555.0,257.8 560.2,273.2 565.3,288.5 567.8,300.0 547.4,300.0 542.3,285.9 537.1,273.2 529.5,260.4 521.8,250.2 516.7,239.9 514.1,232.3 516.7,224.6 524.4,222.0 534.6,225.9"/>
<polygon fill="#a6e8a0" points="519.2,130.0 539.7,130.0 547.4,140.2 555.0,150.5 560.2,158.1 552.5,165.8 542.3,168.3 534.6,168.3 529.5,155.6 524.4,145.3 521.8,137.7"/>
<polygon fill="#4090ca" points="533.3,204.1 537.1,196.5 547.4,185.0 562.7,178.6 578.0,170.9 588.3,158.1 598.5,150.5 603.6,140.2 598.5,130.0 610.5,130.0 610.5,300.5 579.3,300.5 578.0,288.5 572.9,273.2 562.7,257.8 555.0,242.5 544.8,229.7 541.0,229.7 538.4,219.5 535.9,214.4"/>
<polygon fill="#70c46e" points="539.7,130.0 549.9,130.0 557.6,140.2 565.3,150.5 570.4,158.1 572.9,165.8 567.8,170.9 562.7,176.0 552.5,181.1 544.8,186.2 537.1,190.1 530.8,191.4 528.2,185.0 532.0,178.6 542.3,173.5 552.5,165.8 560.2,158.1 555.0,150.5 547.4,140.2"/>
<polygon fill="#70c46e" points="495.0,202.9 498.3,204.1 499.3,222.0 496.2,223.3"/>
<polygon fill="#70c46e" points="482.2,232.3 486.0,234.8 491.1,247.6 489.8,255.3 486.0,252.7 483.5,242.5"/>
<polygon fill="#70c46e" points="541.0,229.7 544.8,229.7 555.0,242.5 562.7,257.8 572.9,273.2 578.0,288.5 579.3,300.5 567.8,300.5 565.3,288.5 560.2,273.2 555.0,257.8 547.4,242.5"/>
<polygon fill="#70c46e" points="478.3,275.7 482.2,273.2 486.0,283.4 488.6,300.5 478.3,300.5"/>
<polygon fill="#70c46e" points="501.4,265.5 507.7,264.2 505.2,275.7 500.1,285.9 497.5,300.5 491.1,300.5 495.0,283.4"/>
<polygon fill="#70c46e" points="519.2,278.3 524.4,277.0 529.5,288.5 532.0,300.5 519.2,300.5"/>
<polygon fill="#a6e8a0" points="549.9,130.0 560.2,130.0 567.8,142.8 572.9,155.6 570.4,158.1 565.3,150.5 557.6,140.2"/>
<polygon fill="#41b6c4" points="560.2,130.0 567.8,130.0 578.0,137.7 585.7,145.3 590.8,150.5 588.3,158.1 583.2,165.8 578.0,170.9 570.4,168.3 572.9,165.8 570.4,158.1 567.8,142.8"/>
<polygon fill="#41b6c4" points="547.4,185.0 555.0,179.8 562.7,178.6 570.4,183.7 572.9,191.4 565.3,196.5 557.6,199.0 549.9,193.9"/>
<polygon fill="#41b6c4" points="500.1,266.8 503.9,264.2 514.1,265.5 519.2,273.2 520.5,283.4 518.0,293.6 516.7,300.5 497.5,300.5 500.1,285.9 502.6,275.7"/>
<polygon fill="#66abd7" points="567.8,130.0 598.5,130.0 603.6,140.2 598.5,150.5 593.4,158.1 588.3,158.1 590.8,150.5 585.7,145.3 578.0,137.7"/>
<polygon fill="#66abd7" points="562.7,199.0 572.9,192.6 579.3,195.2 585.7,204.1 584.4,214.4 578.0,222.0 570.4,227.1 565.3,219.5 562.7,209.2"/>
<polygon fill="#a6e8a0" points="562.7,170.9 567.8,168.3 572.9,173.5 579.3,179.8 583.2,185.0 579.3,187.5 572.9,185.0 566.5,181.1 562.2,176.0"/>
<polygon fill="#c7e9b4" points="542.3,188.8 547.4,191.4 555.0,201.6 560.2,206.7 556.3,206.7 548.6,200.3 543.5,193.9"/>
<polygon fill="#ffffff" points="601.1,214.4 610.5,206.7 610.5,227.1 603.6,222.0"/>
<polygon fill="#ffffff" points="567.8,263.7 584.4,276.2 580.9,280.1 587.0,284.9 594.7,282.6 594.7,273.7 592.1,266.3 593.4,253.7 592.1,239.9 605.9,237.4 610.5,236.1 610.5,300.5 576.8,300.5 575.7,296.2 573.2,278.8 569.6,266.3"/>
<polygon fill="#a6e8a0" points="602.3,279.5 610.5,278.3 610.5,300.5 603.6,296.2 601.1,288.5"/>
<polygon fill="#ffffcc" points="482.2,177.3 488.6,177.3 491.1,186.2 489.8,193.9 484.7,193.9 481.4,185.0"/>
<polygon fill="#ffffcc" points="507.7,158.1 514.1,157.6 514.6,162.0 508.5,162.7"/>
<polygon fill="#ffffcc" points="548.6,153.0 553.8,153.0 554.5,158.1 549.4,158.6"/>
<polygon fill="#a6e8a0" points="590.8,137.7 598.5,140.2 602.3,145.3 595.9,145.3"/>
<polygon fill="#a6e8a0" points="595.9,165.8 603.6,168.3 610.5,172.2 610.5,177.3 603.6,174.7 597.2,170.9"/>
<polygon fill="#ffffff" points="445.1,285.9 452.8,284.7 455.3,293.6 452.8,300.5 445.1,300.5"/>
</g>
<g clip-path="url(#k2)">
<polygon fill="#ffffff" points="332.0,340.0 452.4,340.0 452.4,441.1 332.0,441.1"/>
<polygon fill="#ffffcc" points="424.9,367.1 429.4,361.7 436.7,358.0 443.9,350.8 447.5,343.6 452.4,341.8 452.4,441.1 440.3,441.1 436.7,433.8 433.1,428.4 429.4,424.8 422.2,423.0 416.8,417.6 413.2,412.2 411.4,403.2 416.8,394.1 418.6,385.1 422.2,376.1"/>
<polygon fill="#edf8b1" points="443.9,350.8 447.5,343.6 452.4,341.8 452.4,376.1 447.5,372.5 444.8,361.7"/>
<polygon fill="#c7e9b4" points="447.5,372.5 452.4,370.7 452.4,379.7 447.5,378.8"/>
<polygon fill="#fdd49e" points="434.9,394.1 440.3,392.3 445.7,393.2 446.6,399.5 444.8,406.8 447.5,412.2 446.6,418.5 442.1,419.4 436.7,415.8 433.1,410.4 435.8,405.0 434.9,399.5"/>
<polygon fill="#fdbb84" points="437.6,397.7 443.0,396.8 443.5,403.2 438.5,404.1"/>
<polygon fill="#ffffff" points="445.7,380.6 452.4,379.7 452.4,392.3 447.5,390.5"/>
<polygon fill="#ffffff" points="426.7,400.5 430.3,399.5 432.2,405.9 428.5,406.8"/>
<polygon fill="#ffffff" points="443.9,407.7 447.5,407.7 447.5,411.3 444.2,411.3"/>
<polygon fill="#edf8b1" points="442.1,419.4 447.5,417.6 452.4,419.4 452.4,441.1 440.3,441.1 441.2,428.4"/>
<polygon fill="#c7e9b4" points="355.5,374.3 359.1,368.9 366.3,367.1 370.8,359.8 377.1,354.4 379.8,356.2 378.0,363.5 375.3,370.7 371.7,376.1 370.8,381.5 375.3,383.3 378.0,388.7 382.5,392.3 391.5,390.5 398.8,392.3 401.5,395.9 409.6,397.7 410.5,403.2 407.8,407.7 400.6,408.6 393.4,410.4 386.1,412.2 384.3,414.0 378.9,411.3 375.3,409.5 370.8,408.6 369.0,412.2 362.7,413.1 359.1,414.9 358.2,421.2 360.9,424.8 363.6,429.3 366.3,433.8 369.0,441.1 347.3,441.1 348.2,428.4 351.8,424.8 350.0,417.6 346.4,410.4 345.5,399.5 347.3,390.5 350.0,383.3 354.6,377.9"/>
<polygon fill="#c7e9b4" points="359.1,414.9 369.0,412.2 378.9,411.3 384.3,414.0 393.4,410.4 407.8,407.7 409.6,412.2 404.2,417.6 400.6,424.8 397.0,430.2 391.5,433.8 386.1,437.4 382.5,441.1 369.0,441.1 366.3,433.8 363.6,429.3 360.9,424.8 358.2,421.2"/>
<polygon fill="#a6e8a0" points="350.0,383.3 355.5,374.3 361.8,373.4 365.4,376.1 366.3,383.3 363.6,390.5 360.0,395.9 357.3,403.2 358.2,408.6 353.7,410.4 350.0,417.6 346.4,410.4 345.5,399.5 347.3,390.5"/>
<polygon fill="#ffffff" points="350.9,388.7 356.4,385.1 360.9,386.0 360.9,391.4 357.3,395.9 350.9,397.7 349.7,393.2"/>
<polygon fill="#ffffff" points="363.6,403.2 368.1,402.3 370.8,405.0 377.1,407.7 375.3,409.5 370.8,408.6 364.5,407.7"/>
<polygon fill="#edf8b1" points="380.7,365.3 389.7,358.0 398.8,354.4 404.2,356.2 407.8,358.0 409.6,365.3 407.8,372.5 406.9,379.7 404.2,386.9 400.6,390.5 393.4,388.7 386.1,390.5 383.4,386.9 384.3,379.7 381.6,374.3"/>
<polygon fill="#c7e9b4" points="388.8,374.3 394.3,368.9 400.6,367.1 404.2,361.7 407.8,359.8 408.7,367.1 404.2,376.1 401.5,383.3 395.2,385.1 392.5,380.6 388.8,378.8"/>
<polygon fill="#a6e8a0" points="401.5,372.5 406.9,367.1 407.8,376.1 406.0,383.3 403.3,379.7"/>
<polygon fill="#a6e8a0" points="394.3,384.2 398.8,382.4 401.5,386.9 397.9,390.5 394.3,388.7"/>
<polygon fill="#ffffcc" points="380.7,374.3 384.3,379.7 383.4,386.9 386.1,390.5 382.5,392.3 379.8,386.9 378.9,379.7"/>
<polygon fill="#ffffff" points="376.2,387.8 382.5,392.3 391.5,390.5 398.8,392.3 400.6,397.7 398.8,403.2 391.5,404.1 384.3,400.5 378.9,395.0 377.1,391.4"/>
<polygon fill="#41b6c4" points="370.8,381.1 375.3,383.3 377.1,388.7 378.0,394.1 376.2,394.1 373.5,388.7 371.3,385.1"/>
<polygon fill="#ffffff" points="406.9,356.2 418.6,355.3 424.0,358.0 424.9,367.1 422.2,376.1 416.8,383.3 411.4,386.9 407.8,385.1 406.9,379.7 408.7,367.1 408.7,359.8"/>
<polygon fill="#ffffcc" points="398.8,340.0 404.2,340.0 403.3,345.4 402.4,350.8 399.7,346.3"/>
<polygon fill="#c7e9b4" points="411.4,340.0 438.5,340.0 437.6,343.6 433.1,346.3 425.8,347.2 422.2,349.0 416.8,345.4 411.4,345.4"/>
<polygon fill="#a6e8a0" points="422.2,343.6 433.1,340.9 438.5,340.9 437.6,343.6 433.1,346.3 425.8,347.2"/>
<polygon fill="#70c46e" points="432.2,342.7 437.6,340.9 437.6,343.6 433.1,346.3"/>
<polygon fill="#4090ca" points="397.0,340.0 401.5,340.0 400.6,341.8 397.3,341.4"/>
<polygon fill="#edf8b1" points="384.3,417.6 393.4,415.8 400.6,412.2 407.8,407.7 410.5,403.2 411.4,403.2 413.2,412.2 416.8,417.6 415.0,424.8 413.2,430.2 409.6,433.8 404.2,441.1 382.5,441.1 386.1,437.4 391.5,433.8 397.0,430.2 393.4,424.8 386.1,423.0"/>
<polygon fill="#ffffcc" points="373.5,416.7 376.2,415.8 377.1,419.4 374.4,420.3"/>
<polygon fill="#fdbb84" points="399.7,441.1 403.3,436.5 407.8,432.9 411.4,430.2 413.2,430.2 414.1,435.6 413.2,441.1"/>
<polygon fill="#41b6c4" points="432.2,430.2 436.7,429.3 437.6,433.8 435.8,438.3 433.1,437.4"/>
<polygon fill="#70c46e" points="435.8,433.8 438.5,434.7 437.6,441.1 434.9,441.1"/>
<polygon fill="#70c46e" points="350.0,414.0 352.2,415.8 353.7,423.0 351.8,423.9"/>
<polygon fill="#70c46e" points="345.0,436.5 347.3,437.1 347.3,441.1 345.0,441.1"/>
<polygon fill="#a6e8a0" points="352.8,351.7 357.3,349.0 359.1,349.9 358.2,356.2 355.5,360.8 351.8,358.0"/>
<polygon fill="#70c46e" points="340.1,366.7 341.4,366.7 341.4,377.0 340.1,377.0"/>
<polygon fill="#ffffff" points="360.9,417.6 369.0,415.8 370.8,419.4 369.0,424.8 365.4,426.6 361.8,423.0"/>
<polygon fill="#ffffff" points="356.4,425.7 360.9,424.8 363.6,429.3 359.1,430.2"/>
</g>
<g clip-path="url(#k3)">
<polygon fill="#ffffff" points="250.0,500.0 420.5,500.0 420.5,682.8 250.0,682.8"/>
<polygon fill="#ffffcc" points="339.5,500.0 420.5,500.0 420.5,682.8 250.0,682.8 250.0,648.3 257.7,635.5 265.3,632.9 275.6,632.9 280.7,627.8 290.9,620.2 301.1,612.5 296.0,607.4 292.2,602.3 301.1,597.1 308.8,576.7 313.9,563.9 334.4,551.1 340.8,538.3 338.2,530.7 339.5,515.3"/>
<polygon fill="#c7e9b4" points="282.0,502.6 296.0,500.0 339.5,500.0 339.5,507.7 331.8,515.3 336.9,525.6 334.4,535.8 326.7,543.5 316.5,551.1 308.8,561.4 301.1,571.6 299.8,584.4 293.5,594.6 292.2,602.3 296.0,607.4 301.1,612.5 290.9,620.2 280.7,627.8 275.6,632.9 265.3,632.9 257.7,635.5 257.7,617.6 262.8,602.3 261.5,584.4 265.3,576.7 275.6,574.1 280.7,558.8 278.1,546.0 269.2,540.9 278.1,533.2 283.2,517.9"/>
<polygon fill="#a6e8a0" points="278.1,533.2 288.3,517.9 301.1,515.3 308.8,523.0 307.5,538.3 301.1,546.0 293.5,548.6 283.2,546.0"/>
<polygon fill="#a6e8a0" points="296.0,500.0 339.5,500.0 338.2,510.2 331.8,515.3 324.1,512.8 313.9,514.1 305.0,508.9 298.6,505.1"/>
<polygon fill="#ffffff" points="313.9,508.9 319.5,508.9 319.5,514.1 313.9,514.1"/>
<polygon fill="#ffffff" points="292.2,535.8 296.0,535.8 296.0,538.9 292.2,538.9"/>
<polygon fill="#ffffff" points="307.5,526.8 312.6,528.1 326.7,538.3 329.2,543.5 322.9,543.5 311.4,535.8"/>
<polygon fill="#ffffff" points="328.0,523.0 333.1,521.7 338.2,530.7 340.8,538.3 336.9,540.9 330.5,533.2"/>
<polygon fill="#ffffff" points="299.8,549.8 307.5,548.6 311.4,555.0 305.0,558.8 299.8,556.2"/>
<polygon fill="#ffffcc" points="301.1,538.3 308.8,533.2 316.5,540.9 324.1,546.0 331.8,548.6 329.2,555.0 319.0,556.2 311.4,551.1 303.7,547.3"/>
<polygon fill="#ffffcc" points="265.3,540.9 273.0,538.3 275.6,544.7 270.5,549.8 264.8,547.3"/>
<polygon fill="#edf8b1" points="319.0,515.3 326.7,516.6 331.8,525.6 326.7,528.1 320.3,523.0"/>
<polygon fill="#ffffff" points="341.5,501.3 349.7,500.8 350.2,510.2 343.3,510.7"/>
<polygon fill="#ffffff" points="394.4,520.5 403.4,517.9 409.8,530.7 420.5,533.2 420.5,586.9 413.6,586.9 403.4,584.4 398.3,576.7 393.2,563.9 394.4,551.1 390.6,540.9"/>
<polygon fill="#ffffff" points="365.0,586.9 370.2,592.0 377.8,599.7 386.8,604.8 388.0,615.0 382.9,625.3 370.2,627.8 362.5,622.7 359.9,615.0 362.5,602.3 363.8,592.0"/>
<polygon fill="#ffffff" points="403.4,602.3 413.6,597.1 420.5,595.9 420.5,643.2 413.6,641.9 405.9,635.5 400.8,625.3 398.3,612.5"/>
<polygon fill="#ffffff" points="357.4,643.2 370.2,639.3 382.9,639.3 393.2,645.7 398.3,655.9 400.8,666.2 397.0,676.4 395.7,682.8 352.3,682.8 349.7,673.8 354.8,663.6 352.3,653.4"/>
<polygon fill="#edf8b1" points="372.7,581.8 388.0,576.7 398.3,579.2 403.4,586.9 400.8,597.1 398.3,607.4 390.6,620.2 382.9,638.0 372.7,632.9 382.9,625.3 388.0,615.0 386.8,604.8 377.8,599.7 370.2,592.0"/>
<polygon fill="#c7e9b4" points="388.0,638.0 403.4,639.3 413.6,643.2 413.6,648.3 400.8,648.3 390.6,645.7"/>
<polygon fill="#c7e9b4" points="393.2,607.4 400.8,602.3 403.4,612.5 397.0,620.2"/>
<polygon fill="#a6e8a0" points="411.6,500.0 420.5,500.0 420.5,528.1 414.9,530.2 411.6,525.6 412.6,515.3"/>
<polygon fill="#c7e9b4" points="366.3,500.0 377.8,500.0 376.5,507.7 370.2,510.2 365.0,506.4"/>
<polygon fill="#c7e9b4" points="352.3,589.5 362.5,586.9 370.2,593.3 368.9,602.3 362.5,609.9 354.8,612.5 351.0,604.8 348.4,597.1"/>
<polygon fill="#fdbb84" points="280.7,638.0 288.3,630.4 301.1,625.3 308.8,620.2 316.5,622.7 324.1,627.8 331.8,634.2 336.9,643.2 334.4,653.4 329.2,663.6 334.4,673.8 331.8,682.8 280.7,682.8 283.2,668.7 288.3,658.5 282.0,650.8"/>
<polygon fill="#fdbb84" points="250.0,625.3 253.8,627.8 257.7,635.5 257.2,645.7 252.6,649.5 250.0,648.3"/>
<polygon fill="#edf8b1" points="250.0,648.3 257.7,635.5 265.3,632.9 275.6,632.9 280.7,638.0 282.0,650.8 288.3,658.5 283.2,668.7 280.7,682.8 250.0,682.8"/>
<polygon fill="#c7e9b4" points="257.7,635.5 265.3,632.9 275.6,632.9 278.1,643.2 267.9,648.3 260.2,645.7"/>
<polygon fill="#c7e9b4" points="293.5,620.2 301.1,618.1 303.7,624.0 296.0,626.5"/>
<polygon fill="#ef6548" points="282.0,639.3 290.9,632.9 296.0,627.8 301.1,629.1 305.0,638.0 306.2,645.7 301.1,648.3 296.0,643.2 292.2,647.0 290.9,653.4 285.8,650.8 283.2,645.7"/>
<polygon fill="#ef6548" points="319.0,653.4 324.1,655.9 329.2,666.2 333.1,676.4 329.2,678.9 322.9,668.7 319.0,661.1"/>
<polygon fill="#fc8d59" points="311.4,638.0 317.0,640.6 318.5,648.3 313.9,649.5 310.8,643.2"/>
<polygon fill="#fc8d59" points="312.6,668.7 319.0,666.2 320.3,675.1 313.9,677.7"/>
<polygon fill="#fc8d59" points="302.4,622.7 306.8,622.2 308.3,627.8 304.2,629.1"/>
<polygon fill="#fc8d59" points="334.4,631.7 357.4,630.4 358.6,643.2 353.5,655.9 345.9,659.8 339.5,653.4 335.6,644.4"/>
<polygon fill="#ef6548" points="331.8,634.2 347.1,632.9 354.8,632.9 356.1,643.2 352.3,653.4 345.9,657.2 340.8,650.8 336.9,643.2"/>
<polygon fill="#ffffff" points="315.2,676.4 326.7,675.1 326.7,680.2 315.2,680.2"/>
<polygon fill="#ffffff" points="334.4,667.4 344.6,667.4 345.1,678.9 334.4,678.9"/>
<polygon fill="#70c46e" points="340.8,676.4 344.1,675.9 344.6,682.8 340.8,682.8"/>
<polygon fill="#ac1111" points="250.0,593.3 255.1,595.9 260.7,597.1 260.7,599.7 255.1,599.2 250.0,596.6"/>
<polygon fill="#fdbb84" points="347.1,515.3 359.9,514.1 372.7,514.1 388.0,506.4 393.2,510.2 391.9,523.0 389.3,533.2 388.0,543.5 386.8,556.2 389.3,563.9 385.5,571.6 377.8,574.1 375.3,579.2 377.8,584.4 372.7,588.2 366.3,581.8 363.8,589.5 352.3,590.8 348.4,598.4 352.3,607.4 358.6,615.0 362.5,622.7 359.9,630.4 354.8,632.9 356.1,643.2 352.3,653.4 345.9,657.2 340.8,650.8 336.9,643.2 331.8,634.2 326.7,627.8 319.0,620.2 308.8,615.0 301.1,609.9 296.0,603.5 293.5,598.4 299.8,589.5 303.7,576.7 302.4,569.0 310.1,560.1 324.1,558.8 331.8,551.1 339.5,543.5 347.1,535.8 348.4,525.6"/>
<polygon fill="#ef6548" points="349.7,517.9 359.9,516.6 370.2,517.9 380.4,514.1 388.0,511.5 390.1,523.0 386.8,533.2 385.5,543.5 384.2,555.0 386.8,562.6 382.9,569.0 376.5,571.6 370.2,570.3 362.5,574.1 357.4,581.8 351.0,588.2 345.9,595.9 349.7,607.4 354.8,616.3 359.9,622.7 358.6,629.1 352.3,630.4 347.1,627.8 340.8,627.8 331.8,631.7 326.7,625.3 321.6,617.6 313.9,609.9 307.5,606.1 301.1,602.3 297.3,597.1 305.0,586.9 306.2,576.7 305.0,570.3 311.4,563.9 324.1,562.6 333.1,555.0 340.8,547.3 348.4,538.3 350.2,528.1"/>
<polygon fill="#fdd49e" points="307.5,598.4 313.9,599.7 317.7,607.4 322.9,612.5 331.8,612.5 339.5,616.3 347.1,615.0 351.0,622.7 347.1,627.8 340.8,627.8 331.8,631.7 326.7,625.3 321.6,617.6 313.9,609.9 308.8,604.8"/>
<polygon fill="#e03c3c" points="352.3,521.7 362.5,520.5 372.7,524.3 382.9,521.7 386.8,528.1 384.2,540.9 382.9,553.7 377.8,563.9 370.2,566.5 362.5,570.3 356.1,578.0 349.7,585.6 343.3,592.0 345.9,604.8 348.4,612.5 339.5,615.0 331.8,609.9 324.1,608.6 317.7,604.8 312.6,597.1 305.0,594.6 308.8,586.9 312.6,576.7 316.5,570.3 326.7,567.7 334.4,560.1 343.3,551.1 351.0,542.2 352.3,532.0"/>
<polygon fill="#c62828" points="353.5,525.6 363.8,524.3 374.0,526.8 381.7,529.4 382.9,538.3 380.4,551.1 375.3,561.4 366.3,565.2 359.9,569.0 352.3,576.7 345.9,584.4 339.5,589.5 339.5,602.3 343.3,609.9 336.9,612.5 330.5,606.1 322.9,602.3 316.5,598.4 313.9,590.8 315.2,581.8 319.0,574.1 329.2,571.6 336.9,563.9 334.4,560.1 344.6,555.0 352.3,546.0 353.5,535.8"/>
<polygon fill="#ac1111" points="356.1,529.4 365.0,528.1 372.7,532.0 375.3,540.9 370.2,548.6 362.5,551.1 356.1,547.3 353.5,538.3"/>
<polygon fill="#ac1111" points="335.6,560.1 343.3,557.5 352.3,561.4 353.5,567.7 345.9,571.6 338.2,570.3 334.4,565.2"/>
<polygon fill="#ac1111" points="319.0,575.4 326.7,572.9 331.8,578.0 330.5,585.6 324.1,588.2 319.0,583.1"/>
<polygon fill="#ac1111" points="331.8,602.3 338.2,601.0 342.0,607.4 338.2,612.5 332.3,609.9"/>
<polygon fill="#940a0a" points="358.6,533.2 366.3,532.0 370.2,538.3 366.3,544.7 359.9,543.5 357.4,538.3"/>
<polygon fill="#940a0a" points="338.2,561.4 347.1,560.1 351.0,565.2 345.9,569.0 339.5,567.7"/>
<polygon fill="#940a0a" points="321.1,576.7 326.7,575.4 329.8,580.5 326.7,585.6 321.6,583.8"/>
<polygon fill="#6b0000" points="361.2,535.8 366.3,535.8 367.6,540.4 362.5,542.2"/>
<polygon fill="#6b0000" points="340.8,562.6 347.1,562.6 347.9,566.5 341.5,567.0"/>
<polygon fill="#6b0000" points="322.9,578.0 326.7,578.0 327.2,582.3 323.1,582.3"/>
<polygon fill="#ffffff" points="324.1,593.3 329.8,593.3 330.5,601.0 324.6,601.7"/>
<polygon fill="#fdbb84" points="362.5,565.2 370.2,563.9 372.2,570.3 366.3,572.9 362.5,570.3"/>
<polygon fill="#fc8d59" points="367.6,574.1 375.3,576.7 379.1,583.1 372.7,588.2 368.9,581.8"/>
</g>
<g clip-path="url(#k4)">
<polygon fill="#4090ca" points="480.0,33.0 665.6,33.0 665.6,135.9 480.0,135.9"/>
<polygon fill="#66abd7" points="539.8,33.0 563.5,33.0 567.6,49.7 570.4,69.2 571.8,88.6 569.0,105.3 571.8,119.2 580.2,135.9 555.1,135.9 552.3,124.8 553.7,113.7 549.5,110.9 555.1,102.5 550.9,88.6 546.8,74.7 544.0,58.0 541.2,44.1"/>
<polygon fill="#a6e8a0" points="521.7,33.0 539.8,33.0 541.2,44.1 544.0,58.0 546.8,74.7 550.9,88.6 555.1,102.5 549.5,110.9 553.7,113.7 556.5,119.2 552.3,124.8 545.4,113.7 539.8,99.8 535.6,83.1 531.5,66.4 525.9,49.7"/>
<polygon fill="#c7e9b4" points="509.2,33.0 521.7,33.0 525.9,49.7 531.5,66.4 535.6,83.1 539.8,99.8 545.4,113.7 552.3,124.8 555.1,135.9 545.4,135.9 539.8,124.8 534.2,113.7 530.1,99.8 525.9,85.9 521.7,69.2 516.2,52.5"/>
<polygon fill="#70c46e" points="491.1,33.0 509.2,33.0 516.2,52.5 521.7,69.2 525.9,85.9 530.1,99.8 534.2,113.7 539.8,124.8 545.4,135.9 532.9,135.9 528.7,122.0 524.5,108.1 518.9,94.2 513.4,80.3 506.4,69.2 499.5,58.0 493.9,46.9"/>
<polygon fill="#ffffcc" points="506.4,34.4 513.4,34.4 518.9,49.7 523.1,63.6 521.7,65.0 516.2,55.3 510.6,44.1"/>
<polygon fill="#a6e8a0" points="480.0,33.0 491.1,33.0 493.9,46.9 499.5,58.0 506.4,69.2 513.4,80.3 518.9,94.2 524.5,108.1 528.7,122.0 532.9,135.9 510.6,135.9 507.8,122.0 506.4,110.9 507.8,102.5 502.3,94.2 496.7,83.1 491.1,71.9 485.6,63.6 480.0,59.4"/>
<polygon fill="#edf8b1" points="480.0,59.4 485.6,63.6 491.1,71.9 496.7,83.1 502.3,94.2 507.8,102.5 506.4,110.9 507.8,122.0 510.6,135.9 480.0,135.9"/>
<polygon fill="#c7e9b4" points="480.0,55.3 485.6,60.8 492.5,71.9 499.5,85.9 505.0,98.4 509.2,102.5 507.8,103.9 502.3,95.6 496.7,84.5 491.1,73.3 485.6,65.0 480.0,60.3"/>
<polygon fill="#41b6c4" points="549.5,110.9 553.7,113.7 556.5,119.2 560.7,129.0 560.7,135.9 555.1,135.9 552.3,124.8"/>
<polygon fill="#c7e9b4" points="587.1,85.9 591.3,84.5 594.1,92.8 601.0,95.6 608.0,99.8 606.6,103.9 598.2,102.5 591.3,105.9 582.9,105.3 580.2,99.8 582.9,95.6"/>
<polygon fill="#66abd7" points="591.3,44.1 599.6,45.5 608.0,55.3 606.6,58.0 598.2,52.5 591.3,49.1"/>
<polygon fill="#66abd7" points="610.8,83.1 616.3,84.5 624.7,95.6 630.2,105.3 624.7,106.7 617.7,99.8 610.8,90.0"/>
<polygon fill="#41b6c4" points="637.2,63.6 642.7,62.2 646.9,71.9 640.8,73.3 636.3,69.2"/>
<polygon fill="#2b8cbe" points="653.9,33.0 665.6,33.0 665.6,55.3 659.4,49.7 655.3,41.3"/>
<polygon fill="#c7e9b4" points="651.1,108.1 655.8,103.9 656.7,113.7 653.9,124.8 659.4,122.0 665.6,117.8 665.6,135.9 649.7,135.9 648.3,122.0"/>
<polygon fill="#c7e9b4" points="587.1,126.2 596.8,126.2 603.8,130.4 606.6,135.9 585.7,135.9"/>
</g>
<g clip-path="url(#k5)">
<polygon fill="#4090ca" points="540.0,125.0 665.4,125.0 665.4,225.6 540.0,225.6"/>
<polygon fill="#66abd7" points="560.7,125.0 577.6,125.0 583.2,132.5 588.9,140.0 594.5,147.6 596.4,155.1 593.6,162.6 588.9,168.2 584.2,173.9 580.4,179.5 575.7,172.0 579.5,166.4 585.1,160.7 587.0,153.2 583.2,145.7 573.8,140.0 566.3,134.4 561.6,130.6"/>
<polygon fill="#41b6c4" points="557.9,134.4 564.4,133.5 573.8,140.0 583.2,145.7 587.0,153.2 585.1,160.7 579.5,166.4 575.7,172.0 572.0,164.5 570.1,157.0 564.4,147.6 560.7,140.0"/>
<polygon fill="#70c46e" points="540.0,125.0 547.5,125.0 553.2,130.6 558.8,138.2 564.4,147.6 570.1,157.0 568.2,164.5 562.6,172.0 558.8,179.5 551.3,185.2 543.8,187.0 540.0,186.1"/>
<polygon fill="#a6e8a0" points="540.0,126.9 546.6,132.5 551.3,143.8 556.9,155.1 560.7,160.7 553.2,168.2 545.6,169.2 540.0,170.1"/>
<polygon fill="#c7e9b4" points="545.6,128.8 553.2,134.4 560.7,145.7 566.3,156.0 562.6,157.9 556.9,149.4 551.3,140.0 547.5,134.4"/>
<polygon fill="#ffffcc" points="548.5,153.2 553.2,152.8 554.7,157.0 551.3,159.8 547.9,157.9"/>
<polygon fill="#a6e8a0" points="562.6,172.0 568.2,165.4 572.9,172.0 580.4,179.5 586.1,185.2 584.2,191.7 577.6,190.8 572.9,185.2 567.3,181.4 561.6,180.5"/>
<polygon fill="#c7e9b4" points="563.5,172.9 567.8,169.2 571.0,176.7 575.7,183.3 570.1,181.4 564.4,179.5"/>
<polygon fill="#41b6c4" points="543.8,187.0 551.3,185.2 558.8,179.5 567.3,181.4 569.1,188.9 564.4,194.5 564.4,198.3 556.9,200.2 551.3,196.4 545.6,190.8"/>
<polygon fill="#66abd7" points="564.4,198.3 569.1,188.9 577.6,190.8 584.2,192.7 585.1,203.9 584.2,215.2 585.1,225.6 565.4,225.6 566.3,213.3 561.6,205.8"/>
<polygon fill="#a6e8a0" points="540.0,186.1 543.8,187.0 545.6,190.8 551.3,196.4 556.9,200.2 560.7,205.8 556.9,207.7 549.4,203.9 543.8,198.3 540.0,192.7"/>
<polygon fill="#41b6c4" points="540.0,192.7 543.8,198.3 549.4,203.9 547.5,209.6 540.0,209.6"/>
<polygon fill="#c7e9b4" points="587.0,126.9 594.5,125.9 602.0,130.6 609.5,132.5 612.4,137.2 607.7,141.9 602.0,143.8 596.4,141.9 592.6,138.2 589.8,132.5"/>
<polygon fill="#a6e8a0" points="608.6,143.8 615.2,142.9 620.8,149.4 628.3,153.2 632.1,158.8 635.9,166.4 637.7,172.0 632.1,173.9 624.6,172.0 618.9,166.4 615.2,158.8 610.5,151.3"/>
<polygon fill="#c7e9b4" points="618.9,155.1 627.4,156.0 632.1,162.6 634.9,170.1 628.3,171.1 622.7,167.3 618.9,161.7"/>
<polygon fill="#c7e9b4" points="593.6,165.4 602.0,167.3 606.7,171.1 610.5,174.8 612.4,179.5 607.7,178.6 602.0,174.8 596.4,171.1"/>
<polygon fill="#a6e8a0" points="617.1,181.4 622.7,180.5 626.5,185.2 631.2,189.8 630.2,196.4 628.3,203.9 625.5,206.8 621.8,203.0 619.9,197.4 617.1,190.8 616.1,185.2"/>
<polygon fill="#c7e9b4" points="618.9,183.3 623.6,185.2 627.4,190.8 626.5,198.3 623.6,200.2 620.8,194.5"/>
<polygon fill="#a6e8a0" points="607.7,182.3 614.2,182.9 614.2,189.8 608.6,189.8"/>
<polygon fill="#a6e8a0" points="640.6,173.9 649.0,173.9 649.0,179.5 641.5,179.5"/>
<polygon fill="#a6e8a0" points="640.6,153.2 644.3,153.2 644.3,157.9 640.6,157.9"/>
<polygon fill="#a6e8a0" points="660.3,181.4 665.4,180.5 665.4,200.2 661.2,198.3 659.4,188.9"/>
<polygon fill="#a6e8a0" points="634.9,194.5 637.7,193.6 638.7,199.2 635.9,201.1"/>
<polygon fill="#a6e8a0" points="631.2,213.3 634.0,212.4 634.9,217.1 631.7,218.0"/>
<polygon fill="#a6e8a0" points="636.8,218.0 639.6,217.5 639.6,225.6 636.8,225.6"/>
<polygon fill="#c7e9b4" points="652.8,125.0 665.4,125.0 665.4,136.3 660.3,135.3 655.6,131.6"/>
<polygon fill="#ffffff" points="601.1,213.3 606.7,212.4 607.7,206.8 611.4,207.7 615.2,212.4 618.9,219.0 621.8,225.6 603.9,225.6 603.0,219.0"/>
</g>
<polygon fill="#4090ca" points="100.0,33.6 103.8,33.6 103.8,35.6 100.0,35.6"/>
<polygon fill="#edf8b1" points="126.8,33.6 158.8,33.6 157.5,42.8 151.1,44.1 148.6,41.5 138.3,42.8 133.2,41.5 126.8,37.7"/>
<polygon fill="#ffffcc" points="144.7,36.4 157.5,35.6 157.5,42.8 151.1,44.1 147.3,40.7"/>
<polygon fill="#4090ca" points="157.5,33.6 176.7,33.6 175.4,40.2 172.9,44.1 165.2,45.3 161.4,42.8 157.5,42.8"/>
<polygon fill="#2869b0" points="138.3,45.3 143.5,44.1 148.6,46.6 147.3,49.2 142.2,49.9 138.3,47.9"/>
<polygon fill="#edf8b1" points="132.0,52.5 137.1,53.0 138.3,55.6 148.6,54.3 151.1,56.8 155.0,55.6 163.9,56.8 163.9,64.5 151.1,64.5 142.2,66.3 138.3,65.8 134.5,59.4"/>
<polygon fill="#c7e9b4" points="132.0,52.5 137.1,53.0 138.3,55.6 142.2,60.7 142.2,66.3 138.3,65.8 134.5,59.4"/>
<polygon fill="#ffffcc" points="155.0,45.3 161.4,49.2 163.9,55.6 155.0,55.6 153.7,50.5"/>
<!--/MAPFILL-->
</g>
<g id="coast" fill="none" stroke="#000" stroke-width="1.25" stroke-linejoin="round">
<!--COAST-->
<path d="M0.0 236.0 L3.7 239.7 L7.5 244.7 L8.7 248.5 L6.2 249.7 L5.0 246.0 L0.0 244.7"/>
<path d="M0.0 254.7 L6.2 258.4 L12.5 264.7 L16.2 272.2 L18.7 279.7 L21.2 288.4 L20.0 295.9 L12.5 302.1 L6.2 308.4 L0.0 314.6"/>
<path d="M0.0 314.6 L5.0 315.4 L10.0 318.3 L13.7 323.3 L18.7 323.8 L22.5 325.8 L23.7 322.1 L26.2 315.8 L30.0 310.9 L33.2 307.6 L36.2 308.9 L43.7 307.9 L52.4 307.4 L56.2 308.9 L63.7 308.9 L72.4 310.4 L82.4 313.9 L91.1 320.8 L98.6 327.1 L102.3 333.3 L104.3 343.3 L106.1 352.0 L103.6 360.8 L101.1 365.8 L98.6 370.8 L97.4 378.3 L96.9 385.7 L93.6 390.7 L88.6 394.5 L84.9 399.0"/>
<path d="M283.3 299.6 L285.3 294.6 L288.3 289.6 L292.1 287.1 L295.3 288.4 L295.3 292.1 L293.3 297.1 L290.3 302.1 L287.1 305.4 L284.1 304.6 Z"/>
<path d="M295.3 282.2 L299.5 278.4 L303.8 275.4 L305.0 276.7 L300.8 280.2 L296.3 283.4 Z"/>
<path d="M332.0 262.2 L325.8 263.9 L315.8 266.7 L311.5 268.9 L312.8 271.4 L317.0 269.7 L325.8 267.2 L332.0 264.9"/>
<path d="M248.4 399.0 L253.4 392.0 L259.6 384.5 L265.8 377.0 L270.8 368.3 L274.6 358.3 L276.3 353.3 L277.1 345.8 L278.8 335.8 L280.3 325.8 L282.8 315.8 L284.8 308.4 L288.3 307.9 L288.8 310.9 L294.6 313.9 L299.5 312.1 L304.5 309.6 L310.8 305.9 L315.8 300.9 L322.0 296.4 L325.8 293.4 L325.8 288.4 L328.3 283.4 L332.0 280.4"/>
<path d="M304.5 309.6 L305.8 314.6 L308.3 320.8 L308.8 327.1 L314.5 327.8 L318.3 329.6 L317.8 333.3 L314.5 337.1 L309.5 338.8 L304.5 338.3 L302.8 342.1 L304.5 348.3 L305.3 355.8 L304.5 360.8 L300.8 363.3 L302.0 365.8 L308.3 367.8 L315.8 368.8 L322.0 372.8 L325.8 374.5 L332.0 372.8"/>
<path d="M322.0 296.4 L324.5 300.9 L325.8 308.4 L324.5 315.8 L328.3 318.3 L332.0 318.8"/>
<path d="M416.9 241.0 L426.9 239.0 L436.8 237.2 L446.8 234.7 L456.8 233.0 L466.8 231.5 L476.8 230.5 L486.8 234.7 L491.8 236.0" stroke-dasharray="10 6" stroke-width="1.7"/>
<path d="M330.5 279.9 L339.5 273.9 L347.0 270.4 L357.0 267.2 L369.4 265.4 L381.9 263.9 L394.4 262.2 L403.1 260.4 L409.4 262.2 L414.4 267.2 L418.1 272.2 L423.1 274.7 L431.8 275.9 L433.1 280.9"/>
<path d="M394.4 262.7 L404.4 261.4 L410.6 263.9 L415.6 269.7 L419.4 273.9 L424.4 275.9"/>
<path d="M385.7 247.2 L394.4 250.2 L400.6 253.4 L406.9 257.2 L411.9 262.2"/>
<path d="M339.5 260.9 L344.5 259.9 L354.5 260.4 L358.2 261.7 L353.2 262.9 L344.5 263.9 L340.7 263.9 L339.0 262.2 Z"/>
<path d="M370.7 257.9 L378.2 256.4 L380.7 257.2 L376.9 259.2 L371.4 259.9 Z"/>
<path d="M400.6 248.0 L405.6 246.5 L408.9 247.2 L404.4 249.7 L401.4 249.9 Z"/>
<path d="M332.0 262.2 L335.7 261.7 L335.7 263.4 L332.0 263.9"/>
<path d="M369.9 267.2 L378.2 266.7 L378.2 272.2 L375.7 274.7 L371.9 274.7 L370.2 270.9 Z"/>
<path d="M440.6 273.4 L433.1 275.4 L433.1 280.9 L433.8 290.9 L434.3 300.9 L433.1 308.4 L428.1 315.8 L425.6 323.3 L424.4 330.8 L423.1 337.1 L416.9 338.3 L406.9 337.8 L404.4 340.8 L403.1 345.8 L404.4 350.8 L402.6 353.3 L406.9 355.8 L416.9 355.8 L421.9 359.5 L424.4 365.8 L423.1 373.3 L421.9 378.3 L418.1 382.0 L411.9 387.0 L406.9 388.7 L403.1 392.0 L406.9 395.7 L409.4 399.0"/>
<path d="M419.4 272.2 L421.4 265.9 L423.1 258.4 L426.9 253.4 L428.1 248.5 L431.8 244.7 L436.8 241.0 L444.3 239.7 L453.1 241.0 L461.8 239.0 L471.8 238.0 L481.8 237.2 L484.3 243.5 L488.0 250.9 L490.5 255.9 L486.8 258.4 L485.5 260.9 L490.5 264.7 L498.0 265.9"/>
<path d="M498.0 246.0 L495.5 249.7 L494.8 254.7 L498.0 255.9"/>
<path d="M332.0 318.3 L337.0 317.8 L340.7 319.6 L339.5 323.3 L337.0 327.1 L337.5 335.8 L339.5 340.8 L347.0 343.3 L352.0 348.3 L352.0 354.5 L347.0 360.8 L339.5 365.8 L334.5 369.5 L332.0 372.0"/>
<path d="M498.0 246.1 L504.3 248.6 L509.3 251.2 L511.8 246.1 L509.3 238.6 L510.6 231.1 L514.3 224.8 L519.3 220.5 L525.6 222.3 L533.2 226.0 L541.9 225.5 L539.4 221.0 L535.7 216.0"/>
<path d="M509.3 251.2 L513.1 254.9 L510.6 259.9 L511.1 268.7 L509.3 263.7 L509.8 258.7"/>
<path d="M498.0 254.9 L500.0 258.7 L499.3 263.7 L498.0 265.0"/>
<path d="M540.7 219.8 L550.7 221.0 L558.3 223.5 L563.3 229.8 L569.6 237.3 L573.3 243.6 L579.6 248.6 L585.9 251.2 L590.4 252.4 L587.2 253.7 L580.9 251.2 L574.6 247.4 L569.6 241.1 L564.5 233.6 L559.5 227.3 L554.5 223.5 L548.2 222.3 L541.9 222.3"/>
<path d="M86.1 399.0 L82.4 402.0 L77.4 402.7 L74.9 400.2 L73.6 403.5 L68.6 402.7 L73.6 404.5 L74.9 409.0 L72.4 411.5 L74.9 415.2 L71.1 418.5 L66.2 420.2 L59.9 417.0 L53.7 418.5 L51.2 422.7 L44.9 423.5 L44.4 425.2 L49.9 424.0 L56.2 422.7 L57.9 427.7 L56.2 432.7 L52.4 434.4 L56.2 436.4 L53.7 440.2 L48.7 443.4 L42.4 444.4 L37.4 442.7 L31.2 444.4 L26.2 446.4 L25.0 448.9 L32.5 447.7 L38.7 448.9 L41.2 451.4 L36.2 453.9 L34.9 455.9 L41.2 456.9 L43.7 455.2 L42.4 452.7 L47.4 451.4 L53.7 452.7 L56.2 455.9 L53.7 458.4 L48.7 458.4 L51.2 460.2 L58.7 459.4 L67.4 457.7 L77.4 456.4 L87.4 455.9 L86.9 460.2 L84.9 463.9 L85.4 471.4 L83.6 476.4 L77.4 481.4 L69.9 485.1 L64.4 487.6 L61.2 491.4 L58.7 495.1 L56.2 500.1 L51.2 501.3 L46.2 499.3 L41.2 502.6 L33.7 506.3 L26.2 510.1 L18.7 514.3 L15.0 516.8 L8.7 515.1 L0.0 513.3"/>
<path d="M166.0 476.4 L159.8 479.4 L152.3 485.1 L142.3 488.4 L136.0 486.9 L124.8 491.4 L112.3 494.4 L103.6 498.4 L96.1 503.8 L94.4 506.8 L96.1 516.3 L95.4 526.3 L96.1 536.3 L94.4 543.8 L93.6 553.8 L92.4 562.5 L97.4 566.2 L97.9 569.2 L92.4 567.5 L88.6 571.2 L86.1 577.5 L82.4 582.0"/>
<path d="M152.3 485.1 L154.3 492.6 L157.3 498.8 L157.8 506.3 L161.0 511.3 L166.0 515.1"/>
<path d="M250.4 396.5 L245.9 398.3 L240.9 399.5 L238.4 401.0 L237.9 405.2 L239.6 410.2 L238.9 415.2 L240.9 420.2 L239.6 426.5 L237.1 428.5"/>
<path d="M232.2 416.5 L238.4 414.5 L245.9 416.5 L253.4 420.2 L259.6 424.0 L262.1 427.7 L259.6 430.2 L253.4 429.5 L247.1 427.0 L242.1 424.0 L238.4 420.2 L234.6 421.0 L231.4 419.5 Z"/>
<path d="M222.2 425.2 L225.9 423.5 L233.4 422.7 L240.9 424.0 L247.1 427.7 L248.9 430.2 L244.6 429.5 L238.4 427.0 L230.9 427.0 L225.9 428.5 L222.9 427.7 Z"/>
<path d="M240.9 433.9 L247.1 433.4 L252.1 435.9 L252.9 437.7 L247.1 436.4 L242.1 436.4 Z"/>
<path d="M208.4 441.4 L212.2 437.7 L219.7 436.4 L228.4 435.9 L234.6 438.4 L235.9 441.4 L240.9 443.9 L248.4 443.4 L254.6 445.2 L257.9 447.7 L255.9 450.9 L249.6 451.4 L243.4 450.2 L239.6 448.9 L237.1 452.7 L232.2 455.2 L225.9 454.4 L220.9 451.4 L215.9 450.2 L210.9 447.7 L207.9 445.2 Z"/>
<path d="M166.0 476.4 L173.5 471.4 L183.5 465.2 L193.5 460.2 L203.4 456.9 L212.2 455.2 L219.7 457.7 L227.2 460.2 L234.6 458.9 L240.9 455.2 L247.1 457.7 L253.4 458.9 L257.1 463.9 L258.9 465.2 L254.6 457.7 L260.9 458.9 L264.6 457.7 L265.4 450.2 L269.6 447.7 L273.3 447.7 L273.8 452.7 L279.6 453.4 L282.1 447.7 L288.3 445.7 L290.3 452.7 L295.8 454.4 L300.8 452.7 L302.0 447.7 L305.3 448.9 L307.0 457.7 L310.8 462.7 L314.5 465.2 L315.8 467.6 L325.8 466.4 L332.5 465.2"/>
<path d="M203.4 456.9 L202.9 462.7 L204.7 467.6 L208.4 469.4 L213.4 466.4 L219.7 465.2 L225.9 467.6 L228.9 471.4 L234.6 472.6 L240.9 471.4 L247.1 467.6 L252.1 463.9 L254.6 458.9"/>
<path d="M166.0 515.1 L171.0 517.6 L174.7 521.8 L177.2 516.3 L184.7 513.3 L189.7 512.6 L192.2 517.6 L196.0 526.3 L197.2 535.0 L203.4 540.0 L209.7 537.5 L215.9 541.3 L219.7 546.3 L220.9 555.0 L228.4 553.8 L235.9 555.0 L242.1 556.3 L248.4 561.3 L253.4 562.5 L252.1 567.5 L249.6 573.7 L252.1 577.5 L253.4 582.0"/>
<path d="M282.1 582.0 L285.8 575.0 L290.3 571.2 L293.3 573.7 L292.1 578.7 L289.6 582.0"/>
<path d="M409.9 399.0 L408.1 404.0 L404.4 407.0 L394.4 409.5 L385.7 412.0 L383.9 414.0 L381.9 411.0 L375.7 410.2 L370.7 409.0 L369.4 411.5 L363.2 412.7 L359.0 415.2 L358.2 421.5 L362.0 425.2 L364.5 430.2 L366.9 436.4 L371.9 443.9 L373.9 451.4 L373.2 458.9 L369.4 465.2 L365.7 471.4 L365.7 475.1 L368.9 476.4 L365.7 480.1 L358.2 485.1 L354.5 487.6 L353.2 490.1 L355.7 493.9 L360.7 497.6 L364.5 501.3 L365.7 505.1 L362.0 510.1 L359.5 513.8 L361.5 517.6 L366.9 521.3 L371.9 526.3 L373.2 531.3 L375.7 535.0 L381.9 540.0 L384.4 546.3 L383.2 551.3 L384.4 556.3 L379.4 558.8 L373.2 563.8 L370.7 570.0 L369.4 571.2 L363.2 570.0 L357.0 573.7 L354.5 578.7 L353.2 582.0"/>
<path d="M332.0 465.2 L335.7 470.1 L340.7 473.9 L348.2 476.4 L352.0 478.9 L350.7 483.9 L347.0 487.6 L345.7 493.9 L343.2 498.8 L340.7 503.8 L340.0 508.8 L342.0 512.6 L342.5 515.1 L352.0 515.1 L359.5 513.8"/>
<path d="M369.4 571.2 L368.9 576.2 L369.4 582.0"/>
<path d="M82.4 582.0 L76.1 588.2 L68.6 592.5 L58.7 594.5 L48.7 597.0 L38.7 599.5 L30.0 604.0 L21.2 609.0 L12.5 614.5 L8.7 620.7 L6.2 628.2 L5.5 633.2 L8.7 635.7 L15.0 637.4 L22.5 637.4 L28.7 637.4 L23.7 639.9 L15.0 641.4 L7.5 643.9 L2.5 647.4 L0.0 649.9"/>
<path d="M249.6 582.0 L249.6 585.7 L253.4 589.5 L260.9 590.7 L268.3 593.2 L275.8 589.5 L280.8 587.0 L282.8 582.0"/>
<path d="M289.6 582.0 L289.6 589.5 L292.1 597.0 L294.6 604.5 L300.8 607.0 L305.8 610.7 L310.8 614.5 L315.8 618.2 L319.5 621.9 L324.5 623.2 L328.3 628.2 L332.5 633.2"/>
<path d="M353.2 582.0 L349.5 588.2 L346.5 593.2 L345.7 599.5 L349.0 607.0 L351.5 614.5 L354.0 619.4 L353.2 624.4 L350.7 629.4 L344.5 630.7 L337.0 631.9 L332.0 633.2"/>
<path d="M350.7 629.4 L357.0 634.4 L363.2 638.9 L369.4 635.7 L374.4 633.2 L380.7 635.7 L383.2 637.4"/>
<path d="M368.9 582.0 L370.7 588.2 L375.7 594.5 L381.9 600.7 L388.2 604.5 L391.4 607.0 L391.4 613.2 L388.2 618.2 L385.7 624.4 L383.2 631.9 L383.2 637.4 L389.4 639.4 L393.9 645.7 L397.4 651.9 L401.9 658.1 L404.4 664.4 L409.4 665.6 L411.9 663.1 L415.6 661.9 L420.6 663.1 L422.4 668.1 L426.4 670.6 L431.8 669.9 L439.3 669.4 L449.3 671.9 L456.8 675.6 L466.8 678.1 L476.8 679.4 L484.3 681.4"/>
<path d="M502.3 33.8 L500.9 35.2 L495.3 38.0 L491.1 34.4 L489.7 44.1 L487.0 55.3 L486.1 60.8 L492.5 66.4 L496.7 65.0 L495.3 62.2 L499.5 60.8 L503.6 67.8 L510.6 71.9 L517.6 76.1 L519.8 84.5 L521.2 94.2 L521.7 102.5 L520.3 110.9 L521.7 119.2 L522.3 124.8 L530.1 124.8 L539.8 126.2 L550.9 128.1 L560.7 131.8 L571.8 133.7 L576.0 130.4 L580.2 127.6 L583.5 130.4 L585.2 129.0"/>
<path d="M509.2 99.8 L513.4 97.8 L516.7 99.8 L515.6 105.3 L512.8 109.5 L510.0 108.1 L508.7 103.9 Z"/>
<path d="M499.5 135.1 L497.2 129.0 L498.9 122.0 L502.3 113.7 L506.4 111.5 L507.8 116.5 L509.2 122.6 L514.8 126.2 L521.7 125.4"/>
<path d="M497.2 129.0 L507.8 128.1 L517.6 127.0"/>
<path d="M595.5 33.0 L599.6 35.8 L602.4 40.0 L601.8 45.5 L596.8 49.7 L591.3 52.5 L585.7 54.7 L578.8 51.9 L573.2 49.7 L581.5 53.9 L587.1 56.6 L589.9 59.4 L587.1 63.6 L581.5 66.9 L576.0 67.8 L573.2 69.2 L578.8 70.6 L579.6 74.7 L577.9 81.7 L578.8 88.6 L580.2 95.6 L577.4 99.8 L573.2 102.5 L570.4 106.7 L570.4 112.3 L567.6 113.7 L574.6 115.9 L581.5 117.8 L587.1 124.8 L585.2 129.0"/>
<path d="M603.8 34.4 L609.4 35.8 L613.5 34.4 L613.0 33.0"/>
<path d="M584.3 68.6 L591.3 65.8 L602.4 63.0 L612.1 60.3 L619.1 58.0 L624.7 62.2 L630.2 66.9 L633.8 69.7 L630.2 71.9 L626.9 74.2 L631.6 73.3 L635.8 68.6 L638.6 63.0 L641.4 67.8 L644.1 74.7 L646.9 80.3 L650.3 85.9 L648.3 92.8 L646.9 101.2 L645.5 107.6 L640.0 110.9 L631.6 113.1 L623.3 110.9 L616.3 108.7 L609.4 108.7 L606.6 104.8 L608.5 101.2 L605.2 99.2 L601.8 102.0 L599.1 98.4 L596.3 101.2 L594.1 95.6 L593.5 88.6 L591.3 83.1 L587.1 78.9 L585.2 74.2 Z"/>
<path d="M579.6 111.5 L585.2 109.5 L591.3 111.5 L596.8 115.1 L601.8 120.6 L603.8 125.4 L601.0 127.6 L595.5 125.4 L589.9 122.0 L584.3 117.8 L580.2 115.1 Z"/>
<path d="M612.1 119.2 L616.3 121.5 L621.9 124.8 L628.8 128.1 L630.2 130.9 L626.1 131.8 L620.5 129.0 L614.9 124.8 Z"/>
<path d="M645.5 135.1 L648.3 126.2 L652.5 119.2 L655.8 112.3 L656.9 104.8 L654.7 103.9 L651.9 110.9 L648.3 117.8 L644.1 124.8 L640.0 130.9 L641.4 135.1"/>
<path d="M633.0 34.4 L636.3 33.0 L640.0 35.2 L639.1 41.3 L635.8 44.7 L632.5 42.7 L631.9 37.2 Z"/>
<path d="M653.9 46.9 L659.4 46.4 L663.6 49.1 L665.6 50.2"/>
<path d="M661.4 55.3 L665.6 56.6"/>
<path d="M540.0 126.9 L545.6 129.1 L551.3 131.6 L556.9 133.5 L562.6 132.5 L568.2 132.9 L572.9 130.3 L576.7 127.3 L578.5 130.3 L583.2 129.7 L586.1 133.5 L591.7 132.5 L596.4 132.9 L601.1 136.3 L599.2 133.5 L594.5 135.3 L593.6 138.2 L598.3 139.1 L601.1 141.9 L600.2 145.7 L596.4 147.2 L602.0 147.6 L603.0 153.2 L601.1 159.8 L596.4 163.5 L591.7 165.4 L594.5 167.3 L600.2 165.4 L605.8 164.5 L610.5 165.4 L612.4 169.2 L612.4 173.9 L610.5 175.8 L611.1 178.6 L613.3 175.4 L615.2 171.1 L620.8 169.2 L627.4 171.1 L634.0 173.9 L639.6 178.6 L644.3 180.8 L650.0 179.5 L654.7 176.7 L660.3 174.8 L665.4 174.2"/>
<path d="M616.1 125.0 L618.9 127.8 L624.6 130.6 L630.2 129.7 L631.2 127.8 L627.4 126.5 L623.6 125.0"/>
<path d="M643.4 125.0 L640.6 130.6 L637.7 132.5 L639.2 137.2 L642.4 141.5 L644.3 136.3 L646.2 130.6 L648.6 125.0"/>
<path d="M665.4 196.4 L660.3 198.3 L654.7 200.2 L649.0 202.1 L646.2 205.8 L648.1 210.5 L654.7 213.3 L660.3 211.5 L665.4 209.6"/>
<path d="M661.2 135.3 L664.1 134.4 L665.4 136.3 L663.7 139.1 L661.2 138.2 Z"/>
<path d="M540.0 160.7 L541.9 162.6 L542.3 166.4 L540.0 168.2"/>
<path d="M540.0 199.2 L541.9 202.1 L541.5 206.8 L540.0 207.7"/>
<path d="M540.0 221.8 L547.5 220.9 L555.0 221.2 L560.7 223.7 L562.6 225.6"/>
<path d="M498.8 130.0 L498.3 135.1 L497.5 139.7"/>
<path d="M505.2 140.7 L510.3 138.9 L515.4 139.7 L516.2 144.1 L511.6 145.8 L506.5 144.8 Z"/>
<path d="M499.3 145.3 L501.4 144.1 L502.9 147.9 L501.4 151.0 L499.3 149.9 Z"/>
<path d="M519.2 130.0 L521.8 135.1 L526.9 141.5 L530.8 147.9 L532.0 153.0 L535.9 154.3 L541.0 158.1 L542.3 163.2 L541.0 167.1 L534.6 169.6 L528.2 170.9 L521.8 172.2 L519.8 176.0 L516.7 178.6 L518.7 182.4 L521.8 184.2 L528.2 182.4 L533.3 181.1 L536.6 183.7 L535.9 181.1 L534.6 185.0 L530.8 187.5 L530.0 192.6 L532.5 196.5 L538.4 196.0 L542.3 199.0 L542.3 204.1 L539.2 207.2 L535.1 206.7 L533.3 209.2 L534.1 214.4"/>
<path d="M530.0 162.7 L533.3 160.7 L537.7 162.0 L537.7 165.3 L534.1 167.1 L530.5 165.8 Z"/>
<path d="M309.5 362.9 L315.1 358.4 L323.0 352.8 L329.8 346.0 L335.4 342.6 L342.2 341.5 L347.8 342.0 L352.3 348.3 L351.2 353.9 L346.7 359.6 L337.7 365.2 L333.2 370.8 L327.5 374.9 L320.8 372.0 L314.0 368.6 Z"/>
<!--/COAST-->
</g>
<rect x="0" y="681" width="665" height="54" fill="#fff"/>
<rect x="0" y="0" width="665" height="33" fill="#fff"/>
<rect x="0.5" y="33" width="664" height="648" fill="none" stroke="#000" stroke-width="1.4"/>
<line id="slash" x1="527" y1="664.3" x2="518.6" y2="677.6" stroke="#000" stroke-width="1.4"/>
<g id="cbar" stroke="#000" stroke-width="1.3">
<polygon points="238.5,699.5 255.2,694 255.2,705" fill="#fff"/>
<rect x="255.20" y="694" width="17.06" height="11" fill="#6b0000"/>
<rect x="272.26" y="694" width="17.06" height="11" fill="#940a0a"/>
<rect x="289.32" y="694" width="17.06" height="11" fill="#ac1111"/>
<rect x="306.38" y="694" width="17.06" height="11" fill="#c62828"/>
<rect x="323.44" y="694" width="17.06" height="11" fill="#e03c3c"/>
<rect x="340.50" y="694" width="17.06" height="11" fill="#ef6548"/>
<rect x="357.57" y="694" width="17.06" height="11" fill="#fc8d59"/>
<rect x="374.63" y="694" width="17.06" height="11" fill="#fdbb84"/>
<rect x="391.69" y="694" width="17.06" height="11" fill="#fdd49e"/>
<rect x="408.75" y="694" width="17.06" height="11" fill="#ffffcc"/>
<rect x="425.81" y="694" width="17.06" height="11" fill="#edf8b1"/>
<rect x="442.87" y="694" width="17.06" height="11" fill="#c7e9b4"/>
<rect x="459.93" y="694" width="17.06" height="11" fill="#a6e8a0"/>
<rect x="476.99" y="694" width="17.06" height="11" fill="#70c46e"/>
<rect x="494.05" y="694" width="17.06" height="11" fill="#41b6c4"/>
<rect x="511.11" y="694" width="17.06" height="11" fill="#66abd7"/>
<rect x="528.17" y="694" width="17.06" height="11" fill="#4090ca"/>
<rect x="545.23" y="694" width="17.06" height="11" fill="#2b8cbe"/>
<rect x="562.30" y="694" width="17.06" height="11" fill="#2869b0"/>
<rect x="579.36" y="694" width="17.06" height="11" fill="#253494"/>
<rect x="596.42" y="694" width="17.06" height="11" fill="#54278f"/>
<rect x="613.48" y="694" width="17.06" height="11" fill="#6a51a3"/>
<rect x="630.54" y="694" width="17.06" height="11" fill="#807dba"/>
<polygon points="664,699.5 647.6,694 647.6,705" fill="#bcbddc"/>
</g>
<g id="cbl" font-family="Liberation Sans, sans-serif" font-weight="bold" font-size="10.3" letter-spacing="0.8" text-anchor="middle">
<text x="255.2" y="714.4">0</text>
<text x="306.4" y="714.4">600</text>
<text x="357.6" y="714.4">1500</text>
<text x="408.7" y="714.4">3000</text>
<text x="459.9" y="714.4">6000</text>
<text x="511.1" y="714.4">9000</text>
<text x="562.3" y="714.4">20000</text>
<text x="613.5" y="714.4">40000</text>

</g>
</svg>
<!--TXT-->
<span class="t" style="left:2.60px;top:5.7px;font-size:22.1px;letter-spacing:1.87px">KNMI</span>
<span class="t" style="left:77.50px;top:5.7px;font-size:22.1px;letter-spacing:3.90px">Harmonie</span>
<span class="t" style="left:217.20px;top:5.7px;font-size:22.1px;letter-spacing:3.40px">V43</span>
<span class="t" style="left:291.10px;top:13.23px;font-size:14.5px;letter-spacing:1.17px">Run:</span>
<span class="t" style="left:336.30px;top:13.23px;font-size:14.5px;letter-spacing:1.34px">14APR2026</span>
<span class="t" style="left:435.40px;top:13.23px;font-size:14.5px;letter-spacing:1.60px">04Z</span>
<span class="t" style="left:483.00px;top:13.23px;font-size:14.5px;letter-spacing:1.02px">Valid:</span>
<span class="t" style="left:534.90px;top:13.23px;font-size:14.5px;letter-spacing:1.34px">16APR2026</span>
<span class="t" style="left:634.00px;top:13.23px;font-size:14.5px;letter-spacing:1.55px">03Z</span>
<span class="t" style="left:1.90px;top:687.73px;font-size:14.5px;letter-spacing:1.35px">Cloud</span>
<span class="t" style="left:53.30px;top:687.73px;font-size:14.5px;letter-spacing:1.90px">base</span>
<span class="t" style="left:99.00px;top:687.73px;font-size:14.5px;letter-spacing:1.94px">height</span>
<span class="t" style="left:1.30px;top:707.13px;font-size:14.5px;letter-spacing:2.16px">(feet)</span>
<span class="t" style="left:440.20px;top:664.0px;font-size:14.0px;letter-spacing:1.45px">Infoplaza</span>
<span class="t" style="left:539.80px;top:664.0px;font-size:14.0px;letter-spacing:1.08px">Wilfred</span>
<span class="t" style="left:599.40px;top:664.0px;font-size:14.0px;letter-spacing:1.85px">Janssen</span>
<!--/TXT-->
</body></html>
